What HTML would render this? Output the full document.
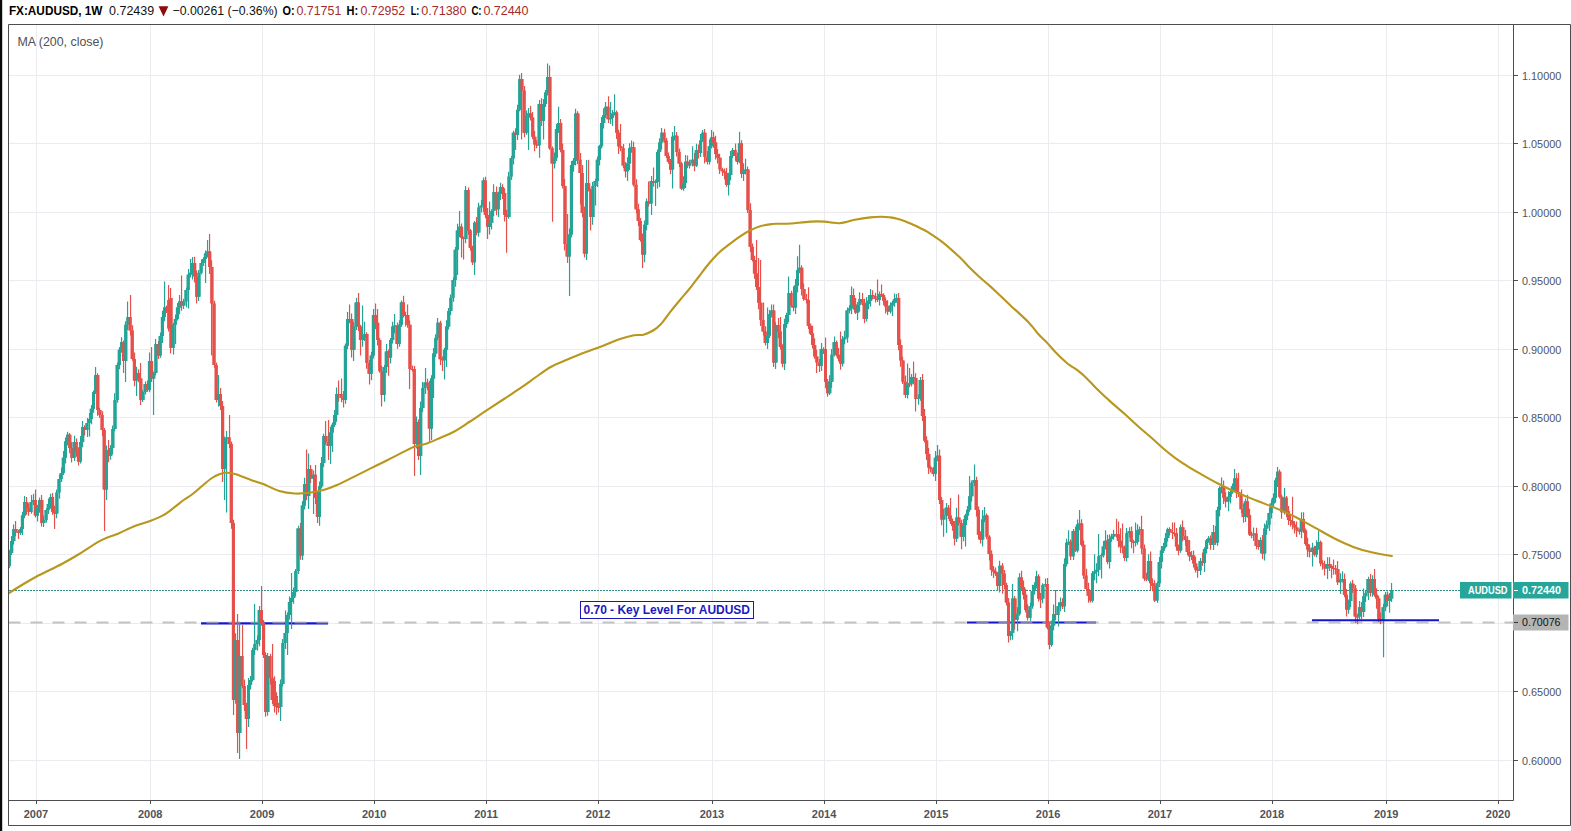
<!DOCTYPE html>
<html lang="en">
<head>
<meta charset="utf-8">
<title>FX:AUDUSD, 1W</title>
<style>
html,body{margin:0;padding:0;background:#fff;}
body{width:1571px;height:831px;overflow:hidden;}
svg{display:block;}
.g{fill:#23a497}
.r{fill:#e5504b}
</style>
</head>
<body>
<svg width="1571" height="831" viewBox="0 0 1571 831">
<defs><clipPath id="cp"><rect x="8.5" y="24.5" width="1505" height="776"/></clipPath></defs>
<rect x="0" y="0" width="1571" height="831" fill="#fff"/>
<path d="M9 75.5H1513M9 143.5H1513M9 212.5H1513M9 280.5H1513M9 349.5H1513M9 417.5H1513M9 486.5H1513M9 554.5H1513M9 623.5H1513M9 691.5H1513M9 760.5H1513M36.5 25V800M150.5 25V800M262.5 25V800M374.5 25V800M486.5 25V800M598.5 25V800M712.5 25V800M824.5 25V800M936.5 25V800M1048.5 25V800M1160.5 25V800M1272.5 25V800M1386.5 25V800M1498.5 25V800" stroke="#ececf0" stroke-width="1" fill="none"/>
<g clip-path="url(#cp)">
<path d="M201 623.4H328" stroke="#1414d2" stroke-width="2.4" fill="none"/>
<path d="M967 622.5H1096" stroke="#1414d2" stroke-width="2" fill="none"/>
<path d="M8.5 622.5H1513" stroke="#acacae" stroke-width="2" stroke-dasharray="12 10" fill="none" opacity="0.72"/>
<path d="M9 590.5H1460" stroke="#348b80" stroke-width="1" stroke-dasharray="2 1" fill="none"/>
<path class="g" d="M8.95 549.7h1.2V568.3h-1.2zM8 553h3V566h-3z"/>
<path class="g" d="M10.95 535.9h1.2V554.9h-1.2zM10.15 541h3V553h-3z"/>
<path class="g" d="M12.95 524.6h1.2V544.5h-1.2zM12.31 529h3V541h-3z"/>
<path class="r" d="M14.95 521h1.2V536.3h-1.2zM14.46 529h3V532h-3z"/>
<path class="r" d="M17.95 530.3h1.2V539h-1.2zM16.61 532h3V533h-3z"/>
<path class="g" d="M19.95 527.1h1.2V535h-1.2zM18.77 529h3V533h-3z"/>
<path class="g" d="M21.95 511.7h1.2V535h-1.2zM20.92 515.5h3V529h-3z"/>
<path class="g" d="M23.95 496h1.2V518.2h-1.2zM23.07 502h3V515.5h-3z"/>
<path class="r" d="M25.95 497h1.2V514.7h-1.2zM25.22 502h3V508h-3z"/>
<path class="r" d="M27.95 503.3h1.2V515.7h-1.2zM27.38 508h3V512h-3z"/>
<path class="g" d="M30.95 495.1h1.2V513.8h-1.2zM29.53 502h3V512h-3z"/>
<path class="g" d="M32.95 493.8h1.2V505.1h-1.2zM31.68 500h3V502h-3z"/>
<path class="r" d="M34.95 489.5h1.2V517.6h-1.2zM33.84 500h3V515.5h-3z"/>
<path class="g" d="M36.95 504.8h1.2V521.5h-1.2zM35.99 508h3V515.5h-3z"/>
<path class="g" d="M38.95 497.5h1.2V512.7h-1.2zM38.14 500h3V508h-3z"/>
<path class="r" d="M40.95 495h1.2V526.5h-1.2zM40.3 500h3V523h-3z"/>
<path class="g" d="M42.95 515.5h1.2V527h-1.2zM42.45 520h3V523h-3z"/>
<path class="g" d="M45.95 508.2h1.2V522.6h-1.2zM44.6 510h3V520h-3z"/>
<path class="g" d="M47.95 498.8h1.2V513.9h-1.2zM46.75 504h3V510h-3z"/>
<path class="g" d="M49.95 493.8h1.2V508.7h-1.2zM48.91 497h3V504h-3z"/>
<path class="r" d="M51.95 493h1.2V514.8h-1.2zM51.06 497h3V511.7h-3z"/>
<path class="r" d="M53.95 505.8h1.2V529h-1.2zM53.21 511.7h3V513.6h-3z"/>
<path class="g" d="M55.95 489.6h1.2V518.3h-1.2zM55.37 492.4h3V513.6h-3z"/>
<path class="g" d="M58.95 474.6h1.2V498.7h-1.2zM57.52 479h3V492.4h-3z"/>
<path class="g" d="M60.95 467.5h1.2V482.1h-1.2zM59.67 473h3V479h-3z"/>
<path class="g" d="M62.95 450.9h1.2V475.1h-1.2zM61.83 457.8h3V473h-3z"/>
<path class="g" d="M64.95 437.6h1.2V463.5h-1.2zM63.98 441.4h3V457.8h-3z"/>
<path class="g" d="M66.95 431.8h1.2V445.6h-1.2zM66.13 434.7h3V441.4h-3z"/>
<path class="r" d="M68.95 433h1.2V453.2h-1.2zM68.28 434.7h3V448h-3z"/>
<path class="r" d="M70.95 442.3h1.2V462.6h-1.2zM70.44 448h3V457.8h-3z"/>
<path class="g" d="M73.95 435.7h1.2V461h-1.2zM72.59 442h3V457.8h-3z"/>
<path class="r" d="M75.95 438.5h1.2V456.8h-1.2zM74.74 442h3V452h-3z"/>
<path class="r" d="M77.95 447.3h1.2V465.6h-1.2zM76.9 452h3V461.6h-3z"/>
<path class="g" d="M79.95 435.9h1.2V463.5h-1.2zM79.05 442h3V461.6h-3z"/>
<path class="g" d="M81.95 421h1.2V447.2h-1.2zM81.2 427h3V442h-3z"/>
<path class="r" d="M83.95 425.2h1.2V435.4h-1.2zM83.36 427h3V430h-3z"/>
<path class="g" d="M86.95 417.9h1.2V437h-1.2zM85.51 423h3V430h-3z"/>
<path class="g" d="M88.95 413h1.2V436.6h-1.2zM87.66 419h3V423h-3z"/>
<path class="g" d="M90.95 405.1h1.2V424.2h-1.2zM89.81 408.7h3V419h-3z"/>
<path class="g" d="M92.95 390.4h1.2V412.7h-1.2zM91.97 392h3V408.7h-3z"/>
<path class="g" d="M94.95 367h1.2V394.1h-1.2zM94.12 375h3V392h-3z"/>
<path class="r" d="M96.95 373.2h1.2V415.7h-1.2zM96.27 375h3V410h-3z"/>
<path class="r" d="M98.95 407.8h1.2V417.9h-1.2zM98.43 410h3V415h-3z"/>
<path class="r" d="M101.95 411.3h1.2V436.3h-1.2zM100.58 415h3V430h-3z"/>
<path class="r" d="M103.95 428.1h1.2V531h-1.2zM102.73 430h3V489.5h-3z"/>
<path class="g" d="M105.95 445.5h1.2V500h-1.2zM104.89 450h3V489.5h-3z"/>
<path class="r" d="M107.95 440h1.2V462.3h-1.2zM107.04 450h3V456h-3z"/>
<path class="g" d="M109.95 445h1.2V459.8h-1.2zM109.19 448h3V456h-3z"/>
<path class="g" d="M111.95 425.5h1.2V454.4h-1.2zM111.34 429h3V448h-3z"/>
<path class="g" d="M113.95 393.2h1.2V431.3h-1.2zM113.5 400h3V429h-3z"/>
<path class="g" d="M116.95 362.5h1.2V402.8h-1.2zM115.65 365h3V400h-3z"/>
<path class="g" d="M118.95 347h1.2V369.2h-1.2zM117.8 349.8h3V365h-3z"/>
<path class="g" d="M120.95 337.3h1.2V352.7h-1.2zM119.96 342h3V349.8h-3z"/>
<path class="r" d="M122.95 340.5h1.2V373h-1.2zM122.11 342h3V361h-3z"/>
<path class="g" d="M124.95 321.2h1.2V382h-1.2zM124.26 324.7h3V361h-3z"/>
<path class="g" d="M126.95 301.6h1.2V330h-1.2zM126.42 317h3V324.7h-3z"/>
<path class="r" d="M129.95 295h1.2V335.4h-1.2zM128.57 317h3V330.5h-3z"/>
<path class="r" d="M131.95 325.3h1.2V360.8h-1.2zM130.72 330.5h3V359h-3z"/>
<path class="r" d="M133.95 352.6h1.2V386.3h-1.2zM132.87 359h3V380.5h-3z"/>
<path class="g" d="M135.95 366.7h1.2V396h-1.2zM135.03 373h3V380.5h-3z"/>
<path class="r" d="M137.95 369.3h1.2V382.3h-1.2zM137.18 373h3V378.6h-3z"/>
<path class="r" d="M139.95 363h1.2V405h-1.2zM139.33 378.6h3V400h-3z"/>
<path class="g" d="M141.95 390.2h1.2V401.9h-1.2zM141.49 392h3V400h-3z"/>
<path class="g" d="M144.95 381.4h1.2V394.4h-1.2zM143.64 384h3V392h-3z"/>
<path class="r" d="M146.95 380.6h1.2V391.8h-1.2zM145.79 384h3V390h-3z"/>
<path class="g" d="M148.95 352.6h1.2V392.3h-1.2zM147.94 361h3V390h-3z"/>
<path class="r" d="M150.95 347h1.2V382.1h-1.2zM150.1 361h3V378.6h-3z"/>
<path class="g" d="M152.95 371.4h1.2V415h-1.2zM152.25 373h3V378.6h-3z"/>
<path class="g" d="M154.95 339.1h1.2V375.3h-1.2zM154.4 344h3V373h-3z"/>
<path class="r" d="M157.95 341.1h1.2V358.9h-1.2zM156.56 344h3V355.5h-3z"/>
<path class="g" d="M159.95 332.5h1.2V357.7h-1.2zM158.71 336h3V355.5h-3z"/>
<path class="g" d="M161.95 310.8h1.2V343h-1.2zM160.86 317h3V336h-3z"/>
<path class="g" d="M163.95 281.4h1.2V321.2h-1.2zM163.02 307.4h3V317h-3z"/>
<path class="r" d="M165.95 305.4h1.2V313.1h-1.2zM165.17 307.4h3V311h-3z"/>
<path class="r" d="M167.95 285h1.2V331.6h-1.2zM167.32 300h3V328.6h-3z"/>
<path class="r" d="M169.95 288h1.2V353.6h-1.2zM169.47 298h3V347.8h-3z"/>
<path class="g" d="M172.95 323.1h1.2V354.5h-1.2zM171.63 324.7h3V347.8h-3z"/>
<path class="g" d="M174.95 314.6h1.2V344h-1.2zM173.78 319h3V324.7h-3z"/>
<path class="g" d="M176.95 302.9h1.2V320.6h-1.2zM175.93 307.4h3V319h-3z"/>
<path class="g" d="M178.95 295h1.2V314.3h-1.2zM178.09 301.6h3V307.4h-3z"/>
<path class="r" d="M180.95 275.6h1.2V310.8h-1.2zM180.24 301.6h3V305.5h-3z"/>
<path class="g" d="M182.95 298.7h1.2V309h-1.2zM182.39 301.6h3V305.5h-3z"/>
<path class="g" d="M185.95 287.6h1.2V307.3h-1.2zM184.55 290h3V301.6h-3z"/>
<path class="g" d="M187.95 269h1.2V308.4h-1.2zM186.7 274.7h3V290h-3z"/>
<path class="g" d="M189.95 259h1.2V277.4h-1.2zM188.85 272.7h3V274.7h-3z"/>
<path class="g" d="M191.95 257h1.2V279.6h-1.2zM191 263h3V272.7h-3z"/>
<path class="r" d="M193.95 256.8h1.2V282.5h-1.2zM193.16 263h3V276.6h-3z"/>
<path class="r" d="M195.95 270.6h1.2V303.5h-1.2zM195.31 276.6h3V296.8h-3z"/>
<path class="g" d="M197.95 270h1.2V301.1h-1.2zM197.46 272.7h3V296.8h-3z"/>
<path class="g" d="M200.95 259.5h1.2V274.4h-1.2zM199.62 263h3V272.7h-3z"/>
<path class="g" d="M202.95 257.3h1.2V266h-1.2zM201.77 259h3V263h-3z"/>
<path class="g" d="M204.95 250.6h1.2V283h-1.2zM203.92 253.5h3V259h-3z"/>
<path class="g" d="M206.95 240h1.2V257.5h-1.2zM206.08 251.5h3V253.5h-3z"/>
<path class="r" d="M208.95 234h1.2V273.9h-1.2zM208.23 251.5h3V267h-3z"/>
<path class="r" d="M210.95 260.2h1.2V355.5h-1.2zM210.38 267h3V303.5h-3z"/>
<path class="r" d="M213.95 300.8h1.2V367.7h-1.2zM212.53 303.5h3V365h-3z"/>
<path class="r" d="M215.95 362.4h1.2V402.6h-1.2zM214.69 365h3V400h-3z"/>
<path class="g" d="M217.95 375h1.2V406.5h-1.2zM216.84 394h3V400h-3z"/>
<path class="r" d="M219.95 387.9h1.2V410.1h-1.2zM218.99 394h3V406h-3z"/>
<path class="r" d="M221.95 400.9h1.2V482h-1.2zM221.15 406h3V469h-3z"/>
<path class="g" d="M223.95 436.5h1.2V500h-1.2zM223.3 438.5h3V469h-3z"/>
<path class="g" d="M225.95 431h1.2V512.6h-1.2zM225.45 437.5h3V438.5h-3z"/>
<path class="r" d="M228.95 415h1.2V448.1h-1.2zM227.61 437.5h3V444h-3z"/>
<path class="r" d="M230.95 441.5h1.2V528.8h-1.2zM229.76 444h3V523h-3z"/>
<path class="r" d="M232.95 519.7h1.2V715h-1.2zM231.91 523h3V700h-3z"/>
<path class="g" d="M234.95 633.2h1.2V703.7h-1.2zM234.06 640h3V700h-3z"/>
<path class="r" d="M236.95 614h1.2V753h-1.2zM236.22 640h3V733h-3z"/>
<path class="g" d="M238.95 622h1.2V759h-1.2zM238.37 656h3V733h-3z"/>
<path class="r" d="M241.95 625h1.2V688.3h-1.2zM240.52 656h3V686h-3z"/>
<path class="r" d="M243.95 679.5h1.2V710.9h-1.2zM242.68 686h3V705h-3z"/>
<path class="r" d="M245.95 702.7h1.2V749h-1.2zM244.83 705h3V719h-3z"/>
<path class="g" d="M247.95 678.1h1.2V727h-1.2zM246.98 685h3V719h-3z"/>
<path class="g" d="M249.95 676h1.2V689.5h-1.2zM249.14 680h3V685h-3z"/>
<path class="g" d="M251.95 647.8h1.2V681.6h-1.2zM251.29 650h3V680h-3z"/>
<path class="g" d="M253.95 604h1.2V655.1h-1.2zM253.44 644h3V650h-3z"/>
<path class="g" d="M256.95 635.6h1.2V650.6h-1.2zM255.6 640h3V644h-3z"/>
<path class="g" d="M258.95 606.1h1.2V646.3h-1.2zM257.75 610h3V640h-3z"/>
<path class="r" d="M260.95 586h1.2V625.7h-1.2zM259.9 610h3V623h-3z"/>
<path class="r" d="M262.95 620.1h1.2V658.1h-1.2zM262.05 623h3V655h-3z"/>
<path class="r" d="M264.95 652.2h1.2V716.7h-1.2zM264.21 655h3V712h-3z"/>
<path class="g" d="M266.95 653.1h1.2V715.8h-1.2zM266.36 656h3V712h-3z"/>
<path class="r" d="M269.95 653.8h1.2V684.5h-1.2zM268.51 656h3V678h-3z"/>
<path class="r" d="M271.95 644h1.2V704h-1.2zM270.67 678h3V700h-3z"/>
<path class="r" d="M273.95 676.3h1.2V712.5h-1.2zM272.82 681h3V706h-3z"/>
<path class="r" d="M275.95 692.2h1.2V714.7h-1.2zM274.97 696h3V707h-3z"/>
<path class="r" d="M277.95 702.7h1.2V712.4h-1.2zM277.12 707h3V708h-3z"/>
<path class="g" d="M279.95 679.6h1.2V721h-1.2zM279.28 684h3V707h-3z"/>
<path class="g" d="M281.95 639.1h1.2V686.5h-1.2zM281.43 643h3V684h-3z"/>
<path class="g" d="M284.95 610.4h1.2V648.9h-1.2zM283.58 633h3V643h-3z"/>
<path class="g" d="M286.95 612.6h1.2V655h-1.2zM285.74 615h3V633h-3z"/>
<path class="g" d="M288.95 596.5h1.2V619.6h-1.2zM287.89 602h3V615h-3z"/>
<path class="g" d="M290.95 573h1.2V629h-1.2zM290.04 598h3V602h-3z"/>
<path class="g" d="M292.95 587.4h1.2V603.8h-1.2zM292.2 592h3V598h-3z"/>
<path class="g" d="M294.95 568.9h1.2V596.6h-1.2zM294.35 571h3V592h-3z"/>
<path class="g" d="M297.95 525.7h1.2V574h-1.2zM296.5 528.6h3V571h-3z"/>
<path class="r" d="M299.95 522.9h1.2V559.8h-1.2zM298.66 528.6h3V555.5h-3z"/>
<path class="g" d="M301.95 500.9h1.2V560h-1.2zM300.81 505.5h3V555.5h-3z"/>
<path class="g" d="M303.95 477.8h1.2V509.4h-1.2zM302.96 484.3h3V505.5h-3z"/>
<path class="r" d="M305.95 449.6h1.2V500.3h-1.2zM305.11 484.3h3V496h-3z"/>
<path class="g" d="M307.95 453.5h1.2V509h-1.2zM307.27 469h3V496h-3z"/>
<path class="r" d="M309.95 465h1.2V482.9h-1.2zM309.42 469h3V478.5h-3z"/>
<path class="g" d="M312.95 470.6h1.2V514h-1.2zM311.57 474.7h3V478.5h-3z"/>
<path class="r" d="M314.95 465h1.2V504.1h-1.2zM313.73 474.7h3V497.8h-3z"/>
<path class="r" d="M316.95 491.1h1.2V523h-1.2zM315.88 497.8h3V517h-3z"/>
<path class="g" d="M318.95 481.6h1.2V525.7h-1.2zM318.03 486.2h3V517h-3z"/>
<path class="g" d="M320.95 456.9h1.2V488.5h-1.2zM320.19 463h3V486.2h-3z"/>
<path class="g" d="M322.95 433.8h1.2V466.9h-1.2zM322.34 436h3V463h-3z"/>
<path class="r" d="M324.95 421h1.2V444.8h-1.2zM324.49 436h3V442h-3z"/>
<path class="r" d="M327.95 420h1.2V460h-1.2zM326.64 442h3V446h-3z"/>
<path class="g" d="M329.95 426.7h1.2V464h-1.2zM328.8 432.5h3V446h-3z"/>
<path class="g" d="M331.95 422.5h1.2V452h-1.2zM330.95 424.8h3V432.5h-3z"/>
<path class="g" d="M333.95 409.9h1.2V427.1h-1.2zM333.1 415h3V424.8h-3z"/>
<path class="g" d="M335.95 387.6h1.2V421.8h-1.2zM335.26 394h3V415h-3z"/>
<path class="r" d="M337.95 380.5h1.2V401.7h-1.2zM337.41 394h3V395h-3z"/>
<path class="r" d="M340.95 378.6h1.2V402.2h-1.2zM339.56 394h3V398h-3z"/>
<path class="r" d="M342.95 391.1h1.2V407.5h-1.2zM341.72 398h3V399.8h-3z"/>
<path class="g" d="M344.95 343.4h1.2V403.7h-1.2zM343.87 345.8h3V399.8h-3z"/>
<path class="g" d="M346.95 312h1.2V349.2h-1.2zM346.02 319h3V345.8h-3z"/>
<path class="r" d="M348.95 304.4h1.2V323.3h-1.2zM348.17 319h3V320h-3z"/>
<path class="r" d="M350.95 313.5h1.2V357.4h-1.2zM350.33 319h3V349.7h-3z"/>
<path class="g" d="M352.95 322.1h1.2V361h-1.2zM352.48 326.6h3V349.7h-3z"/>
<path class="g" d="M355.95 297.7h1.2V329.9h-1.2zM354.63 302.5h3V326.6h-3z"/>
<path class="r" d="M357.95 293h1.2V330.9h-1.2zM356.79 302.5h3V326.6h-3z"/>
<path class="r" d="M359.95 324.7h1.2V355.5h-1.2zM358.94 326.6h3V340h-3z"/>
<path class="g" d="M361.95 305.4h1.2V346.8h-1.2zM361.09 338h3V340h-3z"/>
<path class="g" d="M363.95 321.8h1.2V341h-1.2zM363.25 334h3V338h-3z"/>
<path class="r" d="M365.95 332.3h1.2V368.8h-1.2zM365.4 334h3V363h-3z"/>
<path class="r" d="M368.95 360h1.2V384.4h-1.2zM367.55 363h3V373.8h-3z"/>
<path class="g" d="M370.95 351.7h1.2V380.3h-1.2zM369.7 355.5h3V373.8h-3z"/>
<path class="g" d="M372.95 309h1.2V358.4h-1.2zM371.86 315h3V355.5h-3z"/>
<path class="r" d="M374.95 303.5h1.2V329.3h-1.2zM374.01 315h3V322.7h-3z"/>
<path class="r" d="M376.95 309h1.2V345.4h-1.2zM376.16 322.7h3V340h-3z"/>
<path class="r" d="M378.95 338h1.2V372.8h-1.2zM378.32 340h3V371h-3z"/>
<path class="r" d="M380.95 365.7h1.2V406.5h-1.2zM380.47 371h3V395h-3z"/>
<path class="g" d="M383.95 365.1h1.2V401.7h-1.2zM382.62 367h3V395h-3z"/>
<path class="g" d="M385.95 344h1.2V372.9h-1.2zM384.77 351.6h3V367h-3z"/>
<path class="r" d="M387.95 349.6h1.2V375.7h-1.2zM386.93 351.6h3V357.4h-3z"/>
<path class="g" d="M389.95 338.1h1.2V363.6h-1.2zM389.08 340h3V357.4h-3z"/>
<path class="g" d="M391.95 321.8h1.2V343.4h-1.2zM391.23 326.6h3V340h-3z"/>
<path class="g" d="M393.95 314h1.2V333.2h-1.2zM393.39 325.6h3V326.6h-3z"/>
<path class="r" d="M396.95 322.6h1.2V348.7h-1.2zM395.54 325.6h3V344h-3z"/>
<path class="g" d="M398.95 320.3h1.2V346.8h-1.2zM397.69 324.7h3V344h-3z"/>
<path class="g" d="M400.95 300.4h1.2V327.1h-1.2zM399.85 302.5h3V324.7h-3z"/>
<path class="r" d="M402.95 295.8h1.2V317.6h-1.2zM402 302.5h3V315h-3z"/>
<path class="r" d="M404.95 311.8h1.2V326.6h-1.2zM404.15 315h3V316h-3z"/>
<path class="r" d="M406.95 304.4h1.2V327.8h-1.2zM406.31 315h3V324.7h-3z"/>
<path class="r" d="M408.95 320.4h1.2V389h-1.2zM408.46 324.7h3V369h-3z"/>
<path class="r" d="M411.95 365.6h1.2V371.6h-1.2zM410.61 369h3V370h-3z"/>
<path class="r" d="M413.95 366.1h1.2V476h-1.2zM412.76 369h3V444h-3z"/>
<path class="g" d="M415.95 416.5h1.2V448.5h-1.2zM414.92 422h3V444h-3z"/>
<path class="r" d="M417.95 419.5h1.2V460.1h-1.2zM417.07 422h3V456h-3z"/>
<path class="g" d="M419.95 401.4h1.2V475h-1.2zM419.22 408h3V456h-3z"/>
<path class="g" d="M421.95 382h1.2V411.9h-1.2zM421.38 388h3V408h-3z"/>
<path class="g" d="M424.95 368h1.2V394.1h-1.2zM423.53 382.4h3V388h-3z"/>
<path class="r" d="M426.95 378.7h1.2V390.3h-1.2zM425.68 382.4h3V386h-3z"/>
<path class="r" d="M428.95 380.7h1.2V442h-1.2zM427.83 386h3V428.6h-3z"/>
<path class="g" d="M430.95 375.2h1.2V440h-1.2zM429.99 378.6h3V428.6h-3z"/>
<path class="g" d="M432.95 348.1h1.2V398h-1.2zM432.14 353.5h3V378.6h-3z"/>
<path class="g" d="M434.95 334.3h1.2V356.9h-1.2zM434.29 338h3V353.5h-3z"/>
<path class="g" d="M436.95 318h1.2V340.2h-1.2zM436.45 322.7h3V338h-3z"/>
<path class="r" d="M439.95 320.8h1.2V364.9h-1.2zM438.6 322.7h3V359.3h-3z"/>
<path class="r" d="M441.95 356.4h1.2V371h-1.2zM440.75 359.3h3V360.3h-3z"/>
<path class="g" d="M443.95 347.7h1.2V379.5h-1.2zM442.91 349.7h3V360.3h-3z"/>
<path class="g" d="M445.95 320.3h1.2V367h-1.2zM445.06 326.6h3V349.7h-3z"/>
<path class="g" d="M447.95 307.9h1.2V329.4h-1.2zM447.21 311h3V326.6h-3z"/>
<path class="g" d="M449.95 294.6h1.2V315h-1.2zM449.37 297.7h3V311h-3z"/>
<path class="g" d="M452.95 277.6h1.2V301.7h-1.2zM451.52 280h3V297.7h-3z"/>
<path class="g" d="M454.95 246.9h1.2V286.8h-1.2zM453.67 249.8h3V280h-3z"/>
<path class="g" d="M456.95 223.7h1.2V275h-1.2zM455.82 230.5h3V249.8h-3z"/>
<path class="g" d="M458.95 211h1.2V237.3h-1.2zM457.98 226.7h3V230.5h-3z"/>
<path class="r" d="M460.95 223.5h1.2V257.5h-1.2zM460.13 226.7h3V238h-3z"/>
<path class="r" d="M462.95 236.5h1.2V259.4h-1.2zM462.28 238h3V239h-3z"/>
<path class="g" d="M464.95 186h1.2V243.3h-1.2zM464.44 190h3V239h-3z"/>
<path class="r" d="M467.95 187.4h1.2V234.8h-1.2zM466.59 190h3V230.5h-3z"/>
<path class="r" d="M469.95 229h1.2V250.8h-1.2zM468.74 230.5h3V247.8h-3z"/>
<path class="r" d="M471.95 245.8h1.2V265h-1.2zM470.89 247.8h3V262.3h-3z"/>
<path class="g" d="M473.95 221.1h1.2V275h-1.2zM473.05 222.8h3V262.3h-3z"/>
<path class="r" d="M475.95 217h1.2V235.2h-1.2zM475.2 222.8h3V232.4h-3z"/>
<path class="g" d="M477.95 202.7h1.2V236.8h-1.2zM477.35 207.4h3V232.4h-3z"/>
<path class="g" d="M480.95 199.9h1.2V212.5h-1.2zM479.51 205.5h3V207.4h-3z"/>
<path class="g" d="M482.95 177.5h1.2V211.8h-1.2zM481.66 180.4h3V205.5h-3z"/>
<path class="r" d="M484.95 176.8h1.2V218.3h-1.2zM483.81 180.4h3V215h-3z"/>
<path class="r" d="M486.95 208.1h1.2V239h-1.2zM485.97 215h3V226.7h-3z"/>
<path class="g" d="M488.95 201.6h1.2V234.4h-1.2zM488.12 222.8h3V226.7h-3z"/>
<path class="g" d="M490.95 209.3h1.2V229.5h-1.2zM490.27 211h3V222.8h-3z"/>
<path class="g" d="M492.95 184.3h1.2V216h-1.2zM492.43 192h3V211h-3z"/>
<path class="r" d="M495.95 186.5h1.2V215.3h-1.2zM494.58 192h3V209.3h-3z"/>
<path class="g" d="M497.95 191.7h1.2V217h-1.2zM496.73 194h3V209.3h-3z"/>
<path class="g" d="M499.95 182.7h1.2V200.1h-1.2zM498.88 187h3V194h-3z"/>
<path class="r" d="M501.95 184.3h1.2V199h-1.2zM501.04 187h3V193h-3z"/>
<path class="r" d="M503.95 188.3h1.2V221.4h-1.2zM503.19 193h3V215h-3z"/>
<path class="r" d="M505.95 209.7h1.2V252.7h-1.2zM505.34 215h3V217h-3z"/>
<path class="g" d="M507.95 171.8h1.2V218.7h-1.2zM507.5 176.6h3V217h-3z"/>
<path class="g" d="M510.95 156.1h1.2V180.1h-1.2zM509.65 158.3h3V176.6h-3z"/>
<path class="g" d="M512.95 130.7h1.2V164.4h-1.2zM511.8 132.8h3V158.3h-3z"/>
<path class="r" d="M514.95 128.2h1.2V150h-1.2zM513.95 132.8h3V134.7h-3z"/>
<path class="g" d="M516.95 104.8h1.2V139.9h-1.2zM516.11 109.7h3V134.7h-3z"/>
<path class="g" d="M518.95 74.7h1.2V111.2h-1.2zM518.26 78.9h3V109.7h-3z"/>
<path class="r" d="M520.95 73h1.2V139.5h-1.2zM520.41 78.9h3V90.4h-3z"/>
<path class="r" d="M523.95 86.1h1.2V137.2h-1.2zM522.57 90.4h3V132.8h-3z"/>
<path class="g" d="M525.95 110.4h1.2V134.7h-1.2zM524.72 115.5h3V132.8h-3z"/>
<path class="g" d="M527.95 107.9h1.2V150h-1.2zM526.87 113.5h3V115.5h-3z"/>
<path class="r" d="M529.95 105.8h1.2V120.4h-1.2zM529.03 113.5h3V117.4h-3z"/>
<path class="r" d="M531.95 111.9h1.2V139.3h-1.2zM531.18 117.4h3V136.7h-3z"/>
<path class="r" d="M533.95 131.1h1.2V151.3h-1.2zM533.33 136.7h3V144.4h-3z"/>
<path class="r" d="M535.95 140.2h1.2V148.2h-1.2zM535.49 144.4h3V145.4h-3z"/>
<path class="g" d="M538.95 99.9h1.2V157.8h-1.2zM537.64 104h3V145.3h-3z"/>
<path class="r" d="M540.95 98.3h1.2V125.9h-1.2zM539.79 104h3V121h-3z"/>
<path class="g" d="M542.95 99h1.2V139.5h-1.2zM541.94 104h3V121h-3z"/>
<path class="g" d="M544.95 90.1h1.2V106.9h-1.2zM544.1 92.4h3V104h-3z"/>
<path class="g" d="M546.95 63.5h1.2V95.6h-1.2zM546.25 77h3V92.4h-3z"/>
<path class="r" d="M548.95 65.4h1.2V149.8h-1.2zM548.4 77h3V148.2h-3z"/>
<path class="r" d="M551.95 146.4h1.2V221.8h-1.2zM550.56 148.2h3V163.6h-3z"/>
<path class="g" d="M553.95 152.6h1.2V168.4h-1.2zM552.71 157.8h3V163.6h-3z"/>
<path class="g" d="M555.95 123.8h1.2V160.9h-1.2zM554.86 129h3V157.8h-3z"/>
<path class="g" d="M557.95 106.8h1.2V133.1h-1.2zM557.01 123h3V129h-3z"/>
<path class="r" d="M559.95 118.9h1.2V152.2h-1.2zM559.17 123h3V150h-3z"/>
<path class="r" d="M561.95 143.6h1.2V188.6h-1.2zM561.32 150h3V186h-3z"/>
<path class="r" d="M563.95 179.1h1.2V250.6h-1.2zM563.47 186h3V244h-3z"/>
<path class="r" d="M566.95 214h1.2V263h-1.2zM565.63 244h3V256.5h-3z"/>
<path class="g" d="M568.95 228.4h1.2V296h-1.2zM567.78 234.4h3V256.5h-3z"/>
<path class="g" d="M570.95 161h1.2V237.4h-1.2zM569.93 165h3V234.4h-3z"/>
<path class="g" d="M572.95 158h1.2V171.7h-1.2zM572.09 160.7h3V165h-3z"/>
<path class="g" d="M574.95 108.7h1.2V165.4h-1.2zM574.24 113.5h3V160.7h-3z"/>
<path class="r" d="M576.95 111.2h1.2V164.2h-1.2zM576.39 113.5h3V159.8h-3z"/>
<path class="r" d="M579.95 153.1h1.2V204.5h-1.2zM578.54 159.8h3V173h-3z"/>
<path class="r" d="M581.95 165h1.2V217.3h-1.2zM580.7 173h3V213h-3z"/>
<path class="r" d="M583.95 206.6h1.2V257.5h-1.2zM582.85 213h3V253.6h-3z"/>
<path class="g" d="M585.95 160h1.2V260h-1.2zM585 183.3h3V253.6h-3z"/>
<path class="r" d="M587.95 159.8h1.2V191.6h-1.2zM587.16 183.3h3V190h-3z"/>
<path class="r" d="M589.95 188.5h1.2V230.5h-1.2zM589.31 190h3V217h-3z"/>
<path class="g" d="M591.95 182h1.2V224.7h-1.2zM591.46 186h3V217h-3z"/>
<path class="g" d="M594.95 178.7h1.2V205.5h-1.2zM593.62 181h3V186h-3z"/>
<path class="g" d="M596.95 156.6h1.2V187.1h-1.2zM595.77 159.8h3V181h-3z"/>
<path class="g" d="M598.95 144.8h1.2V165.4h-1.2zM597.92 146.3h3V159.8h-3z"/>
<path class="g" d="M600.95 116.9h1.2V148.5h-1.2zM600.08 123h3V146.3h-3z"/>
<path class="g" d="M602.95 108.3h1.2V128.4h-1.2zM602.23 114.9h3V123h-3z"/>
<path class="g" d="M604.95 102h1.2V118h-1.2zM604.38 106.8h3V114.9h-3z"/>
<path class="r" d="M607.95 96.2h1.2V123h-1.2zM606.53 106.8h3V119.3h-3z"/>
<path class="g" d="M609.95 102h1.2V124h-1.2zM608.69 118h3V119.3h-3z"/>
<path class="g" d="M611.95 110h1.2V126h-1.2zM610.84 113.5h3V118h-3z"/>
<path class="g" d="M613.95 94.3h1.2V115.4h-1.2zM612.99 112.6h3V113.6h-3z"/>
<path class="r" d="M615.95 110.5h1.2V138.9h-1.2zM615.15 112.6h3V132.8h-3z"/>
<path class="r" d="M617.95 129.7h1.2V154h-1.2zM617.3 132.8h3V146.3h-3z"/>
<path class="r" d="M619.95 124h1.2V151.2h-1.2zM619.45 146.3h3V148.2h-3z"/>
<path class="r" d="M622.95 143.9h1.2V168h-1.2zM621.61 148.2h3V165.5h-3z"/>
<path class="r" d="M624.95 161.9h1.2V177.5h-1.2zM623.76 165.5h3V171.3h-3z"/>
<path class="g" d="M626.95 157.2h1.2V181h-1.2zM625.91 163.6h3V171.3h-3z"/>
<path class="g" d="M628.95 143.2h1.2V170.1h-1.2zM628.06 148.2h3V163.6h-3z"/>
<path class="g" d="M630.95 140.5h1.2V152.7h-1.2zM630.22 147.2h3V148.2h-3z"/>
<path class="r" d="M632.95 141.7h1.2V186.6h-1.2zM632.37 147.2h3V184.8h-3z"/>
<path class="r" d="M635.95 179.3h1.2V213.3h-1.2zM634.52 184.8h3V209.3h-3z"/>
<path class="r" d="M637.95 203.7h1.2V226h-1.2zM636.68 209.3h3V221h-3z"/>
<path class="r" d="M639.95 217.9h1.2V241.8h-1.2zM638.83 221h3V240h-3z"/>
<path class="r" d="M641.95 233.4h1.2V268h-1.2zM640.98 240h3V254.6h-3z"/>
<path class="g" d="M643.95 220.6h1.2V262.3h-1.2zM643.13 224.7h3V254.6h-3z"/>
<path class="g" d="M645.95 198.5h1.2V230.3h-1.2zM645.29 201.6h3V224.7h-3z"/>
<path class="r" d="M647.95 181.4h1.2V206.4h-1.2zM647.44 201.6h3V203.5h-3z"/>
<path class="g" d="M650.95 175.9h1.2V215h-1.2zM649.59 181h3V203.5h-3z"/>
<path class="r" d="M652.95 167.5h1.2V186.7h-1.2zM651.75 181h3V183h-3z"/>
<path class="g" d="M654.95 179.6h1.2V206h-1.2zM653.9 182h3V183h-3z"/>
<path class="g" d="M656.95 149.4h1.2V188.5h-1.2zM656.05 152h3V182h-3z"/>
<path class="g" d="M658.95 138.2h1.2V187h-1.2zM658.21 142.4h3V152h-3z"/>
<path class="g" d="M660.95 128h1.2V149.4h-1.2zM660.36 132.8h3V142.4h-3z"/>
<path class="r" d="M663.95 128.8h1.2V142.8h-1.2zM662.51 132.8h3V140.5h-3z"/>
<path class="r" d="M665.95 137.9h1.2V158h-1.2zM664.66 140.5h3V156h-3z"/>
<path class="r" d="M667.95 152.6h1.2V163.7h-1.2zM666.82 156h3V161.7h-3z"/>
<path class="r" d="M669.95 158.9h1.2V174.2h-1.2zM668.97 161.7h3V169.4h-3z"/>
<path class="g" d="M671.95 132.1h1.2V188.6h-1.2zM671.12 136.7h3V169.4h-3z"/>
<path class="g" d="M673.95 126h1.2V140.5h-1.2zM673.28 135.7h3V136.7h-3z"/>
<path class="r" d="M675.95 131.9h1.2V156.4h-1.2zM675.43 135.7h3V152h-3z"/>
<path class="r" d="M678.95 148.4h1.2V167h-1.2zM677.58 152h3V163.6h-3z"/>
<path class="r" d="M680.95 161.8h1.2V190h-1.2zM679.74 163.6h3V188.6h-3z"/>
<path class="g" d="M682.95 176.2h1.2V190.8h-1.2zM681.89 183h3V188.6h-3z"/>
<path class="g" d="M684.95 155h1.2V188h-1.2zM684.04 161.7h3V183h-3z"/>
<path class="r" d="M686.95 155.5h1.2V168.2h-1.2zM686.2 161.7h3V165.5h-3z"/>
<path class="g" d="M688.95 159.7h1.2V168.4h-1.2zM688.35 162.7h3V165.5h-3z"/>
<path class="g" d="M691.95 146.3h1.2V166.6h-1.2zM690.5 159.8h3V162.7h-3z"/>
<path class="r" d="M693.95 153.1h1.2V171.3h-1.2zM692.65 159.8h3V165.5h-3z"/>
<path class="g" d="M695.95 143.7h1.2V167.1h-1.2zM694.81 150h3V165.5h-3z"/>
<path class="r" d="M697.95 144.4h1.2V158.4h-1.2zM696.96 150h3V153h-3z"/>
<path class="g" d="M699.95 134.1h1.2V157.1h-1.2zM699.11 140.5h3V153h-3z"/>
<path class="g" d="M701.95 130h1.2V142h-1.2zM701.27 132.8h3V140.5h-3z"/>
<path class="r" d="M703.95 129.1h1.2V163.5h-1.2zM703.42 132.8h3V156.9h-3z"/>
<path class="r" d="M706.95 150.9h1.2V164.6h-1.2zM705.57 156.9h3V161.7h-3z"/>
<path class="g" d="M708.95 139.5h1.2V164.6h-1.2zM707.73 146.3h3V161.7h-3z"/>
<path class="g" d="M710.95 130h1.2V148.6h-1.2zM709.88 137.6h3V146.3h-3z"/>
<path class="r" d="M712.95 131.8h1.2V147.7h-1.2zM712.03 137.6h3V142.4h-3z"/>
<path class="r" d="M714.95 135.7h1.2V159.5h-1.2zM714.18 142.4h3V154h-3z"/>
<path class="r" d="M716.95 148.9h1.2V163.5h-1.2zM716.34 154h3V157.8h-3z"/>
<path class="r" d="M718.95 153.8h1.2V173.9h-1.2zM718.49 157.8h3V169.4h-3z"/>
<path class="r" d="M721.95 167.7h1.2V176h-1.2zM720.64 169.4h3V171.3h-3z"/>
<path class="r" d="M723.95 168.5h1.2V179.6h-1.2zM722.8 171.3h3V173h-3z"/>
<path class="r" d="M725.95 167.9h1.2V186.7h-1.2zM724.95 173h3V184.8h-3z"/>
<path class="g" d="M727.95 172.8h1.2V195.4h-1.2zM727.1 175h3V184.8h-3z"/>
<path class="g" d="M729.95 151h1.2V180.3h-1.2zM729.25 156h3V175h-3z"/>
<path class="g" d="M731.95 147.9h1.2V157.9h-1.2zM731.41 150h3V156h-3z"/>
<path class="r" d="M734.95 143.4h1.2V160.7h-1.2zM733.56 150h3V156h-3z"/>
<path class="r" d="M736.95 152.4h1.2V164.4h-1.2zM735.71 156h3V161.7h-3z"/>
<path class="g" d="M738.95 131.8h1.2V163.3h-1.2zM737.87 143.4h3V161.7h-3z"/>
<path class="r" d="M740.95 140.2h1.2V178h-1.2zM740.02 143.4h3V174h-3z"/>
<path class="g" d="M742.95 163.2h1.2V181h-1.2zM742.17 170h3V174h-3z"/>
<path class="g" d="M744.95 158.8h1.2V174.5h-1.2zM744.33 169.4h3V170.4h-3z"/>
<path class="r" d="M746.95 166.6h1.2V212.9h-1.2zM746.48 169.4h3V210h-3z"/>
<path class="r" d="M749.95 203.2h1.2V252.1h-1.2zM748.63 210h3V246.7h-3z"/>
<path class="r" d="M751.95 243.5h1.2V261.6h-1.2zM750.78 246.7h3V260h-3z"/>
<path class="r" d="M753.95 255.8h1.2V278.8h-1.2zM752.94 260h3V273.6h-3z"/>
<path class="r" d="M755.95 240h1.2V289.9h-1.2zM755.09 273.6h3V287h-3z"/>
<path class="r" d="M757.95 258h1.2V309.3h-1.2zM757.24 287h3V302.7h-3z"/>
<path class="r" d="M759.95 260h1.2V326h-1.2zM759.4 302.7h3V320h-3z"/>
<path class="r" d="M762.95 302.5h1.2V335.4h-1.2zM761.55 320h3V331.6h-3z"/>
<path class="r" d="M764.95 326.3h1.2V345.6h-1.2zM763.7 331.6h3V343h-3z"/>
<path class="g" d="M766.95 307.5h1.2V349h-1.2zM765.86 335.5h3V343h-3z"/>
<path class="g" d="M768.95 310h1.2V338.1h-1.2zM768.01 314.3h3V335.5h-3z"/>
<path class="g" d="M770.95 304.6h1.2V317.5h-1.2zM770.16 310.4h3V314.3h-3z"/>
<path class="r" d="M772.95 304.4h1.2V367h-1.2zM772.32 310.4h3V362.4h-3z"/>
<path class="g" d="M774.95 322.3h1.2V369h-1.2zM774.47 325h3V362.4h-3z"/>
<path class="r" d="M777.95 318h1.2V338.3h-1.2zM776.62 325h3V331.6h-3z"/>
<path class="r" d="M779.95 317h1.2V349.5h-1.2zM778.77 331.6h3V347h-3z"/>
<path class="r" d="M781.95 344.3h1.2V367.2h-1.2zM780.93 347h3V363.4h-3z"/>
<path class="g" d="M783.95 318.8h1.2V370.1h-1.2zM783.08 324h3V363.4h-3z"/>
<path class="g" d="M785.95 312.7h1.2V327.7h-1.2zM785.23 315h3V324h-3z"/>
<path class="g" d="M787.95 276.5h1.2V321.9h-1.2zM787.39 293h3V315h-3z"/>
<path class="r" d="M790.95 290.7h1.2V307.4h-1.2zM789.54 293h3V305.6h-3z"/>
<path class="r" d="M792.95 286.4h1.2V311.2h-1.2zM791.69 305.6h3V307.5h-3z"/>
<path class="g" d="M794.95 279h1.2V313.9h-1.2zM793.85 285.4h3V307.5h-3z"/>
<path class="g" d="M796.95 256.3h1.2V292.4h-1.2zM796 270h3V285.4h-3z"/>
<path class="g" d="M798.95 244.7h1.2V273.3h-1.2zM798.15 267.8h3V270h-3z"/>
<path class="r" d="M800.95 265.3h1.2V295.6h-1.2zM800.3 267.8h3V289h-3z"/>
<path class="r" d="M802.95 283.4h1.2V300.7h-1.2zM802.46 289h3V299h-3z"/>
<path class="r" d="M805.95 294h1.2V303.6h-1.2zM804.61 299h3V300h-3z"/>
<path class="r" d="M807.95 287.3h1.2V329.1h-1.2zM806.76 300h3V325.8h-3z"/>
<path class="r" d="M809.95 323.4h1.2V335h-1.2zM808.92 325.8h3V333.5h-3z"/>
<path class="r" d="M811.95 325.8h1.2V348.4h-1.2zM811.07 333.5h3V345h-3z"/>
<path class="r" d="M813.95 338.2h1.2V358.8h-1.2zM813.22 345h3V356.6h-3z"/>
<path class="r" d="M815.95 349.8h1.2V373h-1.2zM815.38 356.6h3V362.4h-3z"/>
<path class="r" d="M818.95 358.9h1.2V372h-1.2zM817.53 362.4h3V366h-3z"/>
<path class="g" d="M820.95 343h1.2V371h-1.2zM819.68 349h3V366h-3z"/>
<path class="r" d="M822.95 347.2h1.2V354.1h-1.2zM821.83 349h3V350h-3z"/>
<path class="r" d="M824.95 337.4h1.2V388.3h-1.2zM823.99 349h3V381.7h-3z"/>
<path class="r" d="M826.95 379.1h1.2V396.7h-1.2zM826.14 381.7h3V393.2h-3z"/>
<path class="g" d="M828.95 375.3h1.2V394.9h-1.2zM828.29 381.7h3V393.2h-3z"/>
<path class="g" d="M830.95 349h1.2V387.7h-1.2zM830.45 354.7h3V381.7h-3z"/>
<path class="g" d="M833.95 336.5h1.2V356.4h-1.2zM832.6 342.2h3V354.7h-3z"/>
<path class="r" d="M835.95 340.5h1.2V356.5h-1.2zM834.75 342.2h3V354.7h-3z"/>
<path class="r" d="M837.95 348.1h1.2V361.5h-1.2zM836.9 354.7h3V358.6h-3z"/>
<path class="r" d="M839.95 331.6h1.2V369.8h-1.2zM839.06 358.6h3V363.4h-3z"/>
<path class="g" d="M841.95 335.9h1.2V366.4h-1.2zM841.21 339.3h3V363.4h-3z"/>
<path class="g" d="M843.95 330.7h1.2V344.2h-1.2zM843.36 337.4h3V339.3h-3z"/>
<path class="g" d="M846.95 307.5h1.2V342.8h-1.2zM845.52 310.4h3V337.4h-3z"/>
<path class="g" d="M848.95 305.3h1.2V313.4h-1.2zM847.67 308.5h3V310.4h-3z"/>
<path class="g" d="M850.95 286.4h1.2V314.2h-1.2zM849.82 295h3V308.5h-3z"/>
<path class="r" d="M852.95 288.5h1.2V309.7h-1.2zM851.98 295h3V304.7h-3z"/>
<path class="r" d="M854.95 298h1.2V314h-1.2zM854.13 304.7h3V312.4h-3z"/>
<path class="g" d="M856.95 301.9h1.2V320h-1.2zM856.28 304.7h3V312.4h-3z"/>
<path class="g" d="M858.95 292.2h1.2V311.4h-1.2zM858.44 299h3V304.7h-3z"/>
<path class="r" d="M861.95 293h1.2V305.6h-1.2zM860.59 299h3V302.7h-3z"/>
<path class="r" d="M863.95 298.8h1.2V323.2h-1.2zM862.74 302.7h3V319h-3z"/>
<path class="g" d="M865.95 297.1h1.2V321.5h-1.2zM864.89 303.7h3V319h-3z"/>
<path class="g" d="M867.95 294.9h1.2V309.3h-1.2zM867.05 300.8h3V303.7h-3z"/>
<path class="g" d="M869.95 289h1.2V306.6h-1.2zM869.2 295h3V300.8h-3z"/>
<path class="r" d="M871.95 290.2h1.2V299.3h-1.2zM871.35 295h3V296h-3z"/>
<path class="r" d="M874.95 292.7h1.2V302.5h-1.2zM873.51 296h3V299h-3z"/>
<path class="r" d="M876.95 279.6h1.2V301.9h-1.2zM875.66 299h3V300h-3z"/>
<path class="g" d="M878.95 291.4h1.2V305.6h-1.2zM877.81 294h3V300h-3z"/>
<path class="r" d="M880.95 284.4h1.2V296.9h-1.2zM879.97 294h3V295h-3z"/>
<path class="r" d="M882.95 293.3h1.2V305.3h-1.2zM882.12 295h3V300.8h-3z"/>
<path class="r" d="M884.95 297.5h1.2V313.5h-1.2zM884.27 300.8h3V306.6h-3z"/>
<path class="r" d="M886.95 300.2h1.2V315h-1.2zM886.42 306.6h3V311.4h-3z"/>
<path class="g" d="M889.95 302.6h1.2V313.4h-1.2zM888.58 305.6h3V311.4h-3z"/>
<path class="g" d="M891.95 300.7h1.2V316h-1.2zM890.73 302.7h3V305.6h-3z"/>
<path class="g" d="M893.95 293.6h1.2V306.7h-1.2zM892.88 299h3V302.7h-3z"/>
<path class="g" d="M895.95 294h1.2V302.8h-1.2zM895.04 298h3V299h-3z"/>
<path class="r" d="M897.95 293.1h1.2V350.2h-1.2zM897.19 298h3V345h-3z"/>
<path class="r" d="M899.95 339.4h1.2V366.7h-1.2zM899.34 345h3V360.5h-3z"/>
<path class="r" d="M901.95 356.7h1.2V383.9h-1.2zM901.5 360.5h3V381.7h-3z"/>
<path class="r" d="M904.95 375.6h1.2V398h-1.2zM903.65 381.7h3V395h-3z"/>
<path class="g" d="M906.95 363.4h1.2V398.6h-1.2zM905.8 383.6h3V395h-3z"/>
<path class="r" d="M908.95 368h1.2V387.2h-1.2zM907.95 383.6h3V384.6h-3z"/>
<path class="g" d="M910.95 374.1h1.2V386.4h-1.2zM910.11 377h3V383.6h-3z"/>
<path class="r" d="M912.95 361.5h1.2V384.4h-1.2zM912.26 377h3V378h-3z"/>
<path class="r" d="M914.95 373.3h1.2V411.5h-1.2zM914.41 378h3V399h-3z"/>
<path class="g" d="M917.95 394.3h1.2V404.8h-1.2zM916.57 398h3V399h-3z"/>
<path class="g" d="M919.95 377h1.2V400.8h-1.2zM918.72 380h3V398h-3z"/>
<path class="r" d="M921.95 374.1h1.2V421.1h-1.2zM920.87 380h3V416h-3z"/>
<path class="r" d="M923.95 409h1.2V442.5h-1.2zM923.02 416h3V440.4h-3z"/>
<path class="r" d="M925.95 436.3h1.2V460h-1.2zM925.18 440.4h3V454h-3z"/>
<path class="r" d="M927.95 447.9h1.2V473.9h-1.2zM927.33 454h3V467.4h-3z"/>
<path class="r" d="M929.95 465.7h1.2V472.4h-1.2zM929.48 467.4h3V469.3h-3z"/>
<path class="r" d="M932.95 467.1h1.2V476.5h-1.2zM931.64 469.3h3V474h-3z"/>
<path class="g" d="M934.95 450.9h1.2V481h-1.2zM933.79 457.8h3V474h-3z"/>
<path class="g" d="M936.95 445h1.2V461.3h-1.2zM935.94 455.8h3V457.8h-3z"/>
<path class="r" d="M938.95 449.5h1.2V504h-1.2zM938.1 455.8h3V500h-3z"/>
<path class="r" d="M940.95 497.1h1.2V525.2h-1.2zM940.25 500h3V519.4h-3z"/>
<path class="g" d="M942.95 508.8h1.2V536.7h-1.2zM942.4 515.5h3V519.4h-3z"/>
<path class="g" d="M945.95 503h1.2V533h-1.2zM944.56 507.8h3V515.5h-3z"/>
<path class="r" d="M947.95 505.1h1.2V519h-1.2zM946.71 507.8h3V515.5h-3z"/>
<path class="r" d="M949.95 498h1.2V523.9h-1.2zM948.86 515.5h3V521.3h-3z"/>
<path class="r" d="M951.95 518.4h1.2V530.8h-1.2zM951.01 521.3h3V526h-3z"/>
<path class="r" d="M953.95 520.9h1.2V545.4h-1.2zM953.17 526h3V538.6h-3z"/>
<path class="g" d="M955.95 507.8h1.2V541.9h-1.2zM955.32 517.5h3V538.6h-3z"/>
<path class="r" d="M957.95 494.4h1.2V525.5h-1.2zM957.47 517.5h3V523h-3z"/>
<path class="r" d="M960.95 519.8h1.2V549.2h-1.2zM959.63 523h3V536.7h-3z"/>
<path class="g" d="M962.95 519.1h1.2V541.2h-1.2zM961.78 525h3V536.7h-3z"/>
<path class="g" d="M964.95 513.7h1.2V546.4h-1.2zM963.93 515.5h3V525h-3z"/>
<path class="g" d="M966.95 506.1h1.2V520h-1.2zM966.09 509.8h3V515.5h-3z"/>
<path class="g" d="M968.95 476h1.2V511.8h-1.2zM968.24 496.3h3V509.8h-3z"/>
<path class="g" d="M970.95 480.4h1.2V501.6h-1.2zM970.39 482.8h3V496.3h-3z"/>
<path class="g" d="M973.95 464.5h1.2V485.9h-1.2zM972.54 480h3V482.8h-3z"/>
<path class="r" d="M975.95 476.8h1.2V516.5h-1.2zM974.7 480h3V509.8h-3z"/>
<path class="r" d="M977.95 506.6h1.2V539.4h-1.2zM976.85 509.8h3V534.8h-3z"/>
<path class="r" d="M979.95 531.3h1.2V543.4h-1.2zM979 534.8h3V539.6h-3z"/>
<path class="g" d="M981.95 510h1.2V546.6h-1.2zM981.16 519.6h3V539.6h-3z"/>
<path class="g" d="M983.95 507h1.2V522.2h-1.2zM983.31 515.5h3V519.6h-3z"/>
<path class="r" d="M985.95 513.6h1.2V539.3h-1.2zM985.46 515.5h3V536.7h-3z"/>
<path class="r" d="M988.95 535.2h1.2V560.5h-1.2zM987.62 536.7h3V554h-3z"/>
<path class="r" d="M990.95 550.2h1.2V575.7h-1.2zM989.77 554h3V569.7h-3z"/>
<path class="r" d="M992.95 566h1.2V578h-1.2zM991.92 569.7h3V571.6h-3z"/>
<path class="r" d="M994.95 567.6h1.2V575.9h-1.2zM994.07 571.6h3V573.5h-3z"/>
<path class="r" d="M996.95 571.9h1.2V591h-1.2zM996.23 573.5h3V586h-3z"/>
<path class="g" d="M998.95 560.8h1.2V592.5h-1.2zM998.38 565.8h3V586h-3z"/>
<path class="r" d="M1001.95 563h1.2V593.8h-1.2zM1000.53 565.8h3V573.5h-3z"/>
<path class="r" d="M1003.95 570h1.2V589.3h-1.2zM1002.69 573.5h3V585h-3z"/>
<path class="r" d="M1005.95 582.7h1.2V605.5h-1.2zM1004.84 585h3V602.4h-3z"/>
<path class="r" d="M1007.95 598h1.2V642.6h-1.2zM1006.99 602.4h3V636h-3z"/>
<path class="g" d="M1009.95 630.9h1.2V640.2h-1.2zM1009.14 633h3V636h-3z"/>
<path class="g" d="M1011.95 584h1.2V639.8h-1.2zM1011.3 598.6h3V633h-3z"/>
<path class="r" d="M1013.95 596h1.2V629.4h-1.2zM1013.45 598.6h3V619.8h-3z"/>
<path class="g" d="M1016.95 607.3h1.2V631.3h-1.2zM1015.6 614h3V619.8h-3z"/>
<path class="g" d="M1018.95 573.2h1.2V615.8h-1.2zM1017.76 577.4h3V614h-3z"/>
<path class="r" d="M1020.95 570.7h1.2V590.6h-1.2zM1019.91 577.4h3V587h-3z"/>
<path class="r" d="M1022.95 580.5h1.2V599.6h-1.2zM1022.06 587h3V594.7h-3z"/>
<path class="r" d="M1024.95 588.7h1.2V612.4h-1.2zM1024.22 594.7h3V610h-3z"/>
<path class="r" d="M1026.95 604.2h1.2V620.5h-1.2zM1026.37 610h3V617.8h-3z"/>
<path class="g" d="M1029.95 602.6h1.2V620.7h-1.2zM1028.52 606.3h3V617.8h-3z"/>
<path class="g" d="M1031.95 584.8h1.2V608.8h-1.2zM1030.68 590.9h3V606.3h-3z"/>
<path class="g" d="M1033.95 582.3h1.2V594.6h-1.2zM1032.83 585h3V590.9h-3z"/>
<path class="g" d="M1035.95 570.7h1.2V588.6h-1.2zM1034.98 576.4h3V585h-3z"/>
<path class="r" d="M1037.95 574.2h1.2V601.5h-1.2zM1037.13 576.4h3V598.6h-3z"/>
<path class="r" d="M1039.95 593.1h1.2V608h-1.2zM1039.29 598.6h3V599.6h-3z"/>
<path class="g" d="M1041.95 583.3h1.2V603.2h-1.2zM1041.44 585h3V598.6h-3z"/>
<path class="g" d="M1044.95 578.4h1.2V586.7h-1.2zM1043.59 584h3V585h-3z"/>
<path class="r" d="M1046.95 577.9h1.2V629.6h-1.2zM1045.75 584h3V627.5h-3z"/>
<path class="r" d="M1048.95 622.7h1.2V649.3h-1.2zM1047.9 627.5h3V644.8h-3z"/>
<path class="g" d="M1050.95 620.6h1.2V646.7h-1.2zM1050.05 625.5h3V644.8h-3z"/>
<path class="g" d="M1052.95 604.4h1.2V630.2h-1.2zM1052.2 614h3V625.5h-3z"/>
<path class="r" d="M1054.95 590h1.2V620.1h-1.2zM1054.36 614h3V615h-3z"/>
<path class="g" d="M1057.95 602.3h1.2V626.5h-1.2zM1056.51 606.3h3V615h-3z"/>
<path class="g" d="M1059.95 597.6h1.2V611.2h-1.2zM1058.66 602.4h3V606.3h-3z"/>
<path class="r" d="M1061.95 598.2h1.2V609.1h-1.2zM1060.82 602.4h3V606.3h-3z"/>
<path class="g" d="M1063.95 558.3h1.2V612.1h-1.2zM1062.97 564h3V606.3h-3z"/>
<path class="g" d="M1065.95 538.7h1.2V566.5h-1.2zM1065.12 542.7h3V564h-3z"/>
<path class="g" d="M1067.95 530.2h1.2V544.9h-1.2zM1067.28 541.8h3V542.8h-3z"/>
<path class="r" d="M1069.95 539.6h1.2V560.1h-1.2zM1069.43 541.8h3V556.2h-3z"/>
<path class="g" d="M1072.95 529h1.2V560.1h-1.2zM1071.58 531h3V556.2h-3z"/>
<path class="r" d="M1074.95 526.7h1.2V552.1h-1.2zM1073.73 531h3V550.4h-3z"/>
<path class="g" d="M1076.95 519.4h1.2V552.4h-1.2zM1075.89 524.4h3V550.4h-3z"/>
<path class="g" d="M1078.95 510h1.2V530.3h-1.2zM1078.04 523.5h3V524.5h-3z"/>
<path class="r" d="M1080.95 519.2h1.2V546.5h-1.2zM1080.19 523.5h3V544.7h-3z"/>
<path class="r" d="M1082.95 540.4h1.2V579.1h-1.2zM1082.35 544.7h3V575.5h-3z"/>
<path class="r" d="M1085.95 568.7h1.2V591.2h-1.2zM1084.5 575.5h3V589h-3z"/>
<path class="r" d="M1087.95 582.8h1.2V602.7h-1.2zM1086.65 589h3V595.7h-3z"/>
<path class="r" d="M1089.95 590.2h1.2V602.4h-1.2zM1088.81 595.7h3V600.5h-3z"/>
<path class="g" d="M1091.95 570.9h1.2V602.4h-1.2zM1090.96 573.5h3V600.5h-3z"/>
<path class="g" d="M1093.95 554.3h1.2V580.3h-1.2zM1093.11 571.6h3V573.5h-3z"/>
<path class="g" d="M1095.95 563.2h1.2V583.2h-1.2zM1095.27 569.7h3V571.6h-3z"/>
<path class="g" d="M1097.95 534h1.2V576.3h-1.2zM1097.42 556.2h3V569.7h-3z"/>
<path class="g" d="M1100.95 553.3h1.2V578.4h-1.2zM1099.57 555.2h3V556.2h-3z"/>
<path class="g" d="M1102.95 540.9h1.2V557.6h-1.2zM1101.72 546.6h3V555.2h-3z"/>
<path class="g" d="M1104.95 530.2h1.2V549.6h-1.2zM1103.88 540.8h3V546.6h-3z"/>
<path class="r" d="M1106.95 534.8h1.2V564.3h-1.2zM1106.03 540.8h3V562h-3z"/>
<path class="g" d="M1108.95 534.6h1.2V568.6h-1.2zM1108.18 538.9h3V562h-3z"/>
<path class="g" d="M1110.95 533.8h1.2V541.8h-1.2zM1110.34 536.5h3V538.9h-3z"/>
<path class="g" d="M1112.95 529.7h1.2V539.7h-1.2zM1112.49 534h3V536.5h-3z"/>
<path class="r" d="M1115.95 518.7h1.2V537.5h-1.2zM1114.64 534h3V535h-3z"/>
<path class="r" d="M1117.95 521.6h1.2V547.5h-1.2zM1116.8 534h3V540.8h-3z"/>
<path class="r" d="M1119.95 528.3h1.2V553h-1.2zM1118.95 540.8h3V546.6h-3z"/>
<path class="r" d="M1121.95 523.5h1.2V553.4h-1.2zM1121.1 546.6h3V547.6h-3z"/>
<path class="r" d="M1123.95 545.4h1.2V561h-1.2zM1123.25 547.5h3V558h-3z"/>
<path class="g" d="M1125.95 528h1.2V561.5h-1.2zM1125.41 533h3V558h-3z"/>
<path class="g" d="M1128.95 527.3h1.2V537.6h-1.2zM1127.56 531.2h3V533h-3z"/>
<path class="r" d="M1130.95 526.5h1.2V548.2h-1.2zM1129.71 531.2h3V541.8h-3z"/>
<path class="r" d="M1132.95 539.7h1.2V553.3h-1.2zM1131.87 541.8h3V542.8h-3z"/>
<path class="g" d="M1134.95 522.5h1.2V546.5h-1.2zM1134.02 541.8h3V542.8h-3z"/>
<path class="g" d="M1136.95 524.3h1.2V544.8h-1.2zM1136.17 530.2h3V541.8h-3z"/>
<path class="g" d="M1138.95 526.4h1.2V535h-1.2zM1138.33 529.3h3V530.3h-3z"/>
<path class="r" d="M1140.95 515.8h1.2V554.2h-1.2zM1140.48 529.3h3V548.5h-3z"/>
<path class="r" d="M1143.95 544.6h1.2V580.9h-1.2zM1142.63 548.5h3V578.4h-3z"/>
<path class="r" d="M1145.95 572.8h1.2V581.2h-1.2zM1144.78 578.4h3V579.4h-3z"/>
<path class="g" d="M1147.95 554.3h1.2V581.3h-1.2zM1146.94 561h3V578.4h-3z"/>
<path class="r" d="M1149.95 551.4h1.2V590.1h-1.2zM1149.09 561h3V583.2h-3z"/>
<path class="r" d="M1151.95 578.5h1.2V591.2h-1.2zM1151.24 583.2h3V586h-3z"/>
<path class="r" d="M1153.95 580.3h1.2V602h-1.2zM1153.4 586h3V600.5h-3z"/>
<path class="g" d="M1156.95 581.5h1.2V602.8h-1.2zM1155.55 583.2h3V600.5h-3z"/>
<path class="g" d="M1158.95 557.1h1.2V587.1h-1.2zM1157.7 562h3V583.2h-3z"/>
<path class="g" d="M1160.95 546.1h1.2V568.4h-1.2zM1159.86 550.4h3V562h-3z"/>
<path class="g" d="M1162.95 542.7h1.2V553.1h-1.2zM1162.01 546.6h3V550.4h-3z"/>
<path class="g" d="M1164.95 532.9h1.2V548.2h-1.2zM1164.16 538h3V546.6h-3z"/>
<path class="g" d="M1166.95 527.8h1.2V541.4h-1.2zM1166.31 529.3h3V538h-3z"/>
<path class="r" d="M1168.95 527.2h1.2V535.5h-1.2zM1168.47 529.3h3V532h-3z"/>
<path class="r" d="M1171.95 522.5h1.2V538.9h-1.2zM1170.62 532h3V533h-3z"/>
<path class="r" d="M1173.95 522.5h1.2V536.6h-1.2zM1172.77 533h3V534h-3z"/>
<path class="r" d="M1175.95 528.1h1.2V550.7h-1.2zM1174.93 533h3V546.6h-3z"/>
<path class="r" d="M1177.95 544.4h1.2V555.3h-1.2zM1177.08 546.6h3V550.4h-3z"/>
<path class="g" d="M1179.95 524.4h1.2V552.7h-1.2zM1179.23 527.3h3V550.4h-3z"/>
<path class="r" d="M1181.95 520.6h1.2V541.3h-1.2zM1181.38 527.3h3V536.3h-3z"/>
<path class="r" d="M1184.95 530h1.2V545.8h-1.2zM1183.54 536.3h3V540h-3z"/>
<path class="r" d="M1186.95 536.3h1.2V555h-1.2zM1185.69 540h3V552h-3z"/>
<path class="r" d="M1188.95 540h1.2V561.2h-1.2zM1187.84 552h3V556.2h-3z"/>
<path class="g" d="M1190.95 550.9h1.2V559.9h-1.2zM1190 555.5h3V556.5h-3z"/>
<path class="r" d="M1192.95 550.4h1.2V567.4h-1.2zM1192.15 555.5h3V563.5h-3z"/>
<path class="r" d="M1194.95 556.8h1.2V572.6h-1.2zM1194.3 563.5h3V569.7h-3z"/>
<path class="r" d="M1196.95 566.8h1.2V577.7h-1.2zM1196.46 569.7h3V570.7h-3z"/>
<path class="g" d="M1199.95 558h1.2V574.9h-1.2zM1198.61 561h3V570.5h-3z"/>
<path class="r" d="M1201.95 552.6h1.2V565.8h-1.2zM1200.76 561h3V563h-3z"/>
<path class="g" d="M1203.95 547.2h1.2V572h-1.2zM1202.91 549h3V563h-3z"/>
<path class="g" d="M1205.95 538.9h1.2V553.5h-1.2zM1205.07 540.5h3V549h-3z"/>
<path class="g" d="M1207.95 536h1.2V542.8h-1.2zM1207.22 538h3V540.5h-3z"/>
<path class="r" d="M1209.95 535.4h1.2V549.8h-1.2zM1209.37 538h3V545h-3z"/>
<path class="g" d="M1212.95 525h1.2V550h-1.2zM1211.53 532h3V545h-3z"/>
<path class="r" d="M1214.95 526h1.2V545h-1.2zM1213.68 532h3V542.5h-3z"/>
<path class="g" d="M1216.95 506.8h1.2V545.7h-1.2zM1215.83 510h3V542.5h-3z"/>
<path class="g" d="M1218.95 486.2h1.2V516.4h-1.2zM1217.99 488h3V510h-3z"/>
<path class="g" d="M1220.95 477.5h1.2V493.4h-1.2zM1220.14 487h3V488h-3z"/>
<path class="r" d="M1222.95 480.4h1.2V503.9h-1.2zM1222.29 487h3V497.8h-3z"/>
<path class="r" d="M1224.95 492.2h1.2V507.4h-1.2zM1224.44 497.8h3V501.6h-3z"/>
<path class="g" d="M1227.95 491.2h1.2V511.2h-1.2zM1226.6 496.8h3V501.6h-3z"/>
<path class="g" d="M1229.95 489.3h1.2V503.5h-1.2zM1228.75 492h3V496.8h-3z"/>
<path class="g" d="M1231.95 483.4h1.2V493.7h-1.2zM1230.9 486.2h3V492h-3z"/>
<path class="g" d="M1233.95 469h1.2V491.8h-1.2zM1233.06 478.5h3V486.2h-3z"/>
<path class="r" d="M1235.95 473.2h1.2V498.1h-1.2zM1235.21 478.5h3V492h-3z"/>
<path class="r" d="M1237.95 472.7h1.2V497h-1.2zM1237.36 492h3V494h-3z"/>
<path class="r" d="M1240.95 489.5h1.2V513.2h-1.2zM1239.52 494h3V509.3h-3z"/>
<path class="r" d="M1242.95 503.5h1.2V522.8h-1.2zM1241.67 509.3h3V517h-3z"/>
<path class="g" d="M1244.95 498.6h1.2V522h-1.2zM1243.82 501.6h3V517h-3z"/>
<path class="r" d="M1246.95 494.8h1.2V517.7h-1.2zM1245.97 501.6h3V515h-3z"/>
<path class="r" d="M1248.95 508.7h1.2V536h-1.2zM1248.13 515h3V534.4h-3z"/>
<path class="r" d="M1250.95 531.5h1.2V538.2h-1.2zM1250.28 534.4h3V535.4h-3z"/>
<path class="g" d="M1252.95 527.6h1.2V541.1h-1.2zM1252.43 533.4h3V534.4h-3z"/>
<path class="r" d="M1255.95 527.8h1.2V549.3h-1.2zM1254.59 533.4h3V546h-3z"/>
<path class="r" d="M1257.95 539.7h1.2V549.8h-1.2zM1256.74 546h3V547h-3z"/>
<path class="g" d="M1259.95 537.2h1.2V553.5h-1.2zM1258.89 540h3V547h-3z"/>
<path class="r" d="M1261.95 535h1.2V558.9h-1.2zM1261.05 540h3V553.6h-3z"/>
<path class="g" d="M1263.95 523.4h1.2V560.5h-1.2zM1263.2 528.6h3V553.6h-3z"/>
<path class="g" d="M1265.95 520.6h1.2V534.7h-1.2zM1265.35 524.7h3V528.6h-3z"/>
<path class="g" d="M1268.95 507.7h1.2V530.9h-1.2zM1267.51 513h3V524.7h-3z"/>
<path class="g" d="M1270.95 499.6h1.2V518.5h-1.2zM1269.66 503.5h3V513h-3z"/>
<path class="g" d="M1272.95 493.2h1.2V506.7h-1.2zM1271.81 497.8h3V503.5h-3z"/>
<path class="g" d="M1274.95 477.7h1.2V502.7h-1.2zM1273.96 480.4h3V497.8h-3z"/>
<path class="g" d="M1276.95 467h1.2V486.9h-1.2zM1276.12 471.8h3V480.4h-3z"/>
<path class="r" d="M1278.95 469.5h1.2V498.4h-1.2zM1278.27 471.8h3V496.8h-3z"/>
<path class="r" d="M1280.95 494.7h1.2V518.8h-1.2zM1280.42 496.8h3V512.2h-3z"/>
<path class="g" d="M1283.95 488h1.2V514.5h-1.2zM1282.58 497.8h3V512.2h-3z"/>
<path class="r" d="M1285.95 496.1h1.2V517h-1.2zM1284.73 497.8h3V511.2h-3z"/>
<path class="r" d="M1287.95 505.9h1.2V525h-1.2zM1286.88 511.2h3V520h-3z"/>
<path class="r" d="M1289.95 514.7h1.2V526.6h-1.2zM1289.04 520h3V521h-3z"/>
<path class="r" d="M1291.95 496.8h1.2V529.4h-1.2zM1291.19 520.9h3V524.7h-3z"/>
<path class="r" d="M1293.95 521.2h1.2V533.6h-1.2zM1293.34 524.7h3V527.6h-3z"/>
<path class="r" d="M1295.95 521.6h1.2V536.9h-1.2zM1295.49 527.6h3V530.5h-3z"/>
<path class="r" d="M1298.95 528.6h1.2V534.4h-1.2zM1297.65 530.5h3V531.5h-3z"/>
<path class="g" d="M1300.95 512.2h1.2V538.2h-1.2zM1299.8 519h3V531.5h-3z"/>
<path class="r" d="M1302.95 512.2h1.2V533.1h-1.2zM1301.95 519h3V530.5h-3z"/>
<path class="r" d="M1304.95 528.4h1.2V545.7h-1.2zM1304.11 530.5h3V544h-3z"/>
<path class="r" d="M1306.95 537.8h1.2V557h-1.2zM1306.26 544h3V549.8h-3z"/>
<path class="r" d="M1308.95 544.8h1.2V557.5h-1.2zM1308.41 549.8h3V551.7h-3z"/>
<path class="g" d="M1311.95 542.8h1.2V566.6h-1.2zM1310.57 547.8h3V551.7h-3z"/>
<path class="r" d="M1313.95 545.8h1.2V556.6h-1.2zM1312.72 547.8h3V554.6h-3z"/>
<path class="g" d="M1315.95 540.3h1.2V557.2h-1.2zM1314.87 546h3V554.6h-3z"/>
<path class="g" d="M1317.95 530.5h1.2V549.8h-1.2zM1317.02 542h3V546h-3z"/>
<path class="r" d="M1319.95 540.4h1.2V566.2h-1.2zM1319.18 542h3V563.3h-3z"/>
<path class="r" d="M1321.95 560.2h1.2V569.7h-1.2zM1321.33 563.3h3V564.3h-3z"/>
<path class="r" d="M1323.95 560.7h1.2V575.5h-1.2zM1323.48 564.2h3V568.5h-3z"/>
<path class="g" d="M1326.95 557.2h1.2V579h-1.2zM1325.64 564h3V568.5h-3z"/>
<path class="r" d="M1328.95 557.3h1.2V570.9h-1.2zM1327.79 564h3V566h-3z"/>
<path class="r" d="M1330.95 564.3h1.2V578.3h-1.2zM1329.94 566h3V568h-3z"/>
<path class="r" d="M1332.95 559.5h1.2V574.8h-1.2zM1332.1 568h3V569h-3z"/>
<path class="r" d="M1334.95 565.1h1.2V574.4h-1.2zM1334.25 568.5h3V569.5h-3z"/>
<path class="r" d="M1336.95 561h1.2V585h-1.2zM1336.4 569.3h3V582.3h-3z"/>
<path class="g" d="M1339.95 573.3h1.2V594h-1.2zM1338.55 579.5h3V582.3h-3z"/>
<path class="g" d="M1341.95 571.3h1.2V582.4h-1.2zM1340.71 579h3V580h-3z"/>
<path class="r" d="M1343.95 573.6h1.2V597.3h-1.2zM1342.86 579h3V594.7h-3z"/>
<path class="r" d="M1345.95 589h1.2V616.5h-1.2zM1345.01 594.7h3V609.6h-3z"/>
<path class="g" d="M1347.95 599.5h1.2V613.8h-1.2zM1347.17 601h3V609.6h-3z"/>
<path class="g" d="M1349.95 581.5h1.2V606.9h-1.2zM1349.32 583.8h3V601h-3z"/>
<path class="r" d="M1351.95 580h1.2V593h-1.2zM1351.47 583.8h3V588.5h-3z"/>
<path class="r" d="M1354.95 585.1h1.2V622.7h-1.2zM1353.62 588.5h3V616.6h-3z"/>
<path class="r" d="M1356.95 613.7h1.2V624.3h-1.2zM1355.78 616.6h3V617.6h-3z"/>
<path class="g" d="M1358.95 601h1.2V619.3h-1.2zM1357.93 607.3h3V616.6h-3z"/>
<path class="r" d="M1360.95 602h1.2V619h-1.2zM1360.08 607.3h3V612h-3z"/>
<path class="g" d="M1362.95 588.5h1.2V617h-1.2zM1362.24 596.3h3V612h-3z"/>
<path class="g" d="M1364.95 591.1h1.2V602.1h-1.2zM1364.39 593h3V596.3h-3z"/>
<path class="g" d="M1367.95 576.8h1.2V600h-1.2zM1366.54 579h3V593h-3z"/>
<path class="r" d="M1369.95 574h1.2V596.5h-1.2zM1368.7 579h3V593h-3z"/>
<path class="g" d="M1371.95 575.3h1.2V596.7h-1.2zM1370.85 579h3V593h-3z"/>
<path class="r" d="M1373.95 569h1.2V596.7h-1.2zM1373 579h3V594.7h-3z"/>
<path class="r" d="M1375.95 588.3h1.2V608.8h-1.2zM1375.15 594.7h3V598.6h-3z"/>
<path class="r" d="M1377.95 596h1.2V621.9h-1.2zM1377.31 598.6h3V619h-3z"/>
<path class="r" d="M1379.95 612.5h1.2V624.3h-1.2zM1379.46 619h3V620h-3z"/>
<path class="g" d="M1382.95 603.7h1.2V657.3h-1.2zM1381.61 607.3h3V619.8h-3z"/>
<path class="g" d="M1384.95 591.9h1.2V611.3h-1.2zM1383.77 594.7h3V607.3h-3z"/>
<path class="r" d="M1386.95 591.6h1.2V606.6h-1.2zM1385.92 594.7h3V601h-3z"/>
<path class="g" d="M1388.95 593h1.2V612.7h-1.2zM1388.07 598.6h3V601h-3z"/>
<path class="g" d="M1390.95 583h1.2V601.9h-1.2zM1390.23 590h3V598.6h-3z"/>
<path class="g" d="M9.5 549.7V568.3M8 553h3V566h-3z"/>
<path class="g" d="M11.7 535.9V554.9M10.2 541h3V553h-3z"/>
<path class="g" d="M13.8 524.6V544.5M12.3 529h3V541h-3z"/>
<path class="r" d="M16 521V536.3M14.5 529h3V532h-3z"/>
<path class="r" d="M18.1 530.3V539M16.6 532h3V533h-3z"/>
<path class="g" d="M20.3 527.1V535M18.8 529h3V533h-3z"/>
<path class="g" d="M22.4 511.7V535M20.9 515.5h3V529h-3z"/>
<path class="g" d="M24.6 496V518.2M23.1 502h3V515.5h-3z"/>
<path class="r" d="M26.7 497V514.7M25.2 502h3V508h-3z"/>
<path class="r" d="M28.9 503.3V515.7M27.4 508h3V512h-3z"/>
<path class="g" d="M31 495.1V513.8M29.5 502h3V512h-3z"/>
<path class="g" d="M33.2 493.8V505.1M31.7 500h3V502h-3z"/>
<path class="r" d="M35.3 489.5V517.6M33.8 500h3V515.5h-3z"/>
<path class="g" d="M37.5 504.8V521.5M36 508h3V515.5h-3z"/>
<path class="g" d="M39.6 497.5V512.7M38.1 500h3V508h-3z"/>
<path class="r" d="M41.8 495V526.5M40.3 500h3V523h-3z"/>
<path class="g" d="M43.9 515.5V527M42.4 520h3V523h-3z"/>
<path class="g" d="M46.1 508.2V522.6M44.6 510h3V520h-3z"/>
<path class="g" d="M48.3 498.8V513.9M46.8 504h3V510h-3z"/>
<path class="g" d="M50.4 493.8V508.7M48.9 497h3V504h-3z"/>
<path class="r" d="M52.6 493V514.8M51.1 497h3V511.7h-3z"/>
<path class="r" d="M54.7 505.8V529M53.2 511.7h3V513.6h-3z"/>
<path class="g" d="M56.9 489.6V518.3M55.4 492.4h3V513.6h-3z"/>
<path class="g" d="M59 474.6V498.7M57.5 479h3V492.4h-3z"/>
<path class="g" d="M61.2 467.5V482.1M59.7 473h3V479h-3z"/>
<path class="g" d="M63.3 450.9V475.1M61.8 457.8h3V473h-3z"/>
<path class="g" d="M65.5 437.6V463.5M64 441.4h3V457.8h-3z"/>
<path class="g" d="M67.6 431.8V445.6M66.1 434.7h3V441.4h-3z"/>
<path class="r" d="M69.8 433V453.2M68.3 434.7h3V448h-3z"/>
<path class="r" d="M71.9 442.3V462.6M70.4 448h3V457.8h-3z"/>
<path class="g" d="M74.1 435.7V461M72.6 442h3V457.8h-3z"/>
<path class="r" d="M76.2 438.5V456.8M74.7 442h3V452h-3z"/>
<path class="r" d="M78.4 447.3V465.6M76.9 452h3V461.6h-3z"/>
<path class="g" d="M80.5 435.9V463.5M79 442h3V461.6h-3z"/>
<path class="g" d="M82.7 421V447.2M81.2 427h3V442h-3z"/>
<path class="r" d="M84.9 425.2V435.4M83.4 427h3V430h-3z"/>
<path class="g" d="M87 417.9V437M85.5 423h3V430h-3z"/>
<path class="g" d="M89.2 413V436.6M87.7 419h3V423h-3z"/>
<path class="g" d="M91.3 405.1V424.2M89.8 408.7h3V419h-3z"/>
<path class="g" d="M93.5 390.4V412.7M92 392h3V408.7h-3z"/>
<path class="g" d="M95.6 367V394.1M94.1 375h3V392h-3z"/>
<path class="r" d="M97.8 373.2V415.7M96.3 375h3V410h-3z"/>
<path class="r" d="M99.9 407.8V417.9M98.4 410h3V415h-3z"/>
<path class="r" d="M102.1 411.3V436.3M100.6 415h3V430h-3z"/>
<path class="r" d="M104.2 428.1V531M102.7 430h3V489.5h-3z"/>
<path class="g" d="M106.4 445.5V500M104.9 450h3V489.5h-3z"/>
<path class="r" d="M108.5 440V462.3M107 450h3V456h-3z"/>
<path class="g" d="M110.7 445V459.8M109.2 448h3V456h-3z"/>
<path class="g" d="M112.8 425.5V454.4M111.3 429h3V448h-3z"/>
<path class="g" d="M115 393.2V431.3M113.5 400h3V429h-3z"/>
<path class="g" d="M117.2 362.5V402.8M115.7 365h3V400h-3z"/>
<path class="g" d="M119.3 347V369.2M117.8 349.8h3V365h-3z"/>
<path class="g" d="M121.5 337.3V352.7M120 342h3V349.8h-3z"/>
<path class="r" d="M123.6 340.5V373M122.1 342h3V361h-3z"/>
<path class="g" d="M125.8 321.2V382M124.3 324.7h3V361h-3z"/>
<path class="g" d="M127.9 301.6V330M126.4 317h3V324.7h-3z"/>
<path class="r" d="M130.1 295V335.4M128.6 317h3V330.5h-3z"/>
<path class="r" d="M132.2 325.3V360.8M130.7 330.5h3V359h-3z"/>
<path class="r" d="M134.4 352.6V386.3M132.9 359h3V380.5h-3z"/>
<path class="g" d="M136.5 366.7V396M135 373h3V380.5h-3z"/>
<path class="r" d="M138.7 369.3V382.3M137.2 373h3V378.6h-3z"/>
<path class="r" d="M140.8 363V405M139.3 378.6h3V400h-3z"/>
<path class="g" d="M143 390.2V401.9M141.5 392h3V400h-3z"/>
<path class="g" d="M145.1 381.4V394.4M143.6 384h3V392h-3z"/>
<path class="r" d="M147.3 380.6V391.8M145.8 384h3V390h-3z"/>
<path class="g" d="M149.4 352.6V392.3M147.9 361h3V390h-3z"/>
<path class="r" d="M151.6 347V382.1M150.1 361h3V378.6h-3z"/>
<path class="g" d="M153.8 371.4V415M152.3 373h3V378.6h-3z"/>
<path class="g" d="M155.9 339.1V375.3M154.4 344h3V373h-3z"/>
<path class="r" d="M158.1 341.1V358.9M156.6 344h3V355.5h-3z"/>
<path class="g" d="M160.2 332.5V357.7M158.7 336h3V355.5h-3z"/>
<path class="g" d="M162.4 310.8V343M160.9 317h3V336h-3z"/>
<path class="g" d="M164.5 281.4V321.2M163 307.4h3V317h-3z"/>
<path class="r" d="M166.7 305.4V313.1M165.2 307.4h3V311h-3z"/>
<path class="r" d="M168.8 285V331.6M167.3 300h3V328.6h-3z"/>
<path class="r" d="M171 288V353.6M169.5 298h3V347.8h-3z"/>
<path class="g" d="M173.1 323.1V354.5M171.6 324.7h3V347.8h-3z"/>
<path class="g" d="M175.3 314.6V344M173.8 319h3V324.7h-3z"/>
<path class="g" d="M177.4 302.9V320.6M175.9 307.4h3V319h-3z"/>
<path class="g" d="M179.6 295V314.3M178.1 301.6h3V307.4h-3z"/>
<path class="r" d="M181.7 275.6V310.8M180.2 301.6h3V305.5h-3z"/>
<path class="g" d="M183.9 298.7V309M182.4 301.6h3V305.5h-3z"/>
<path class="g" d="M186 287.6V307.3M184.5 290h3V301.6h-3z"/>
<path class="g" d="M188.2 269V308.4M186.7 274.7h3V290h-3z"/>
<path class="g" d="M190.4 259V277.4M188.9 272.7h3V274.7h-3z"/>
<path class="g" d="M192.5 257V279.6M191 263h3V272.7h-3z"/>
<path class="r" d="M194.7 256.8V282.5M193.2 263h3V276.6h-3z"/>
<path class="r" d="M196.8 270.6V303.5M195.3 276.6h3V296.8h-3z"/>
<path class="g" d="M199 270V301.1M197.5 272.7h3V296.8h-3z"/>
<path class="g" d="M201.1 259.5V274.4M199.6 263h3V272.7h-3z"/>
<path class="g" d="M203.3 257.3V266M201.8 259h3V263h-3z"/>
<path class="g" d="M205.4 250.6V283M203.9 253.5h3V259h-3z"/>
<path class="g" d="M207.6 240V257.5M206.1 251.5h3V253.5h-3z"/>
<path class="r" d="M209.7 234V273.9M208.2 251.5h3V267h-3z"/>
<path class="r" d="M211.9 260.2V355.5M210.4 267h3V303.5h-3z"/>
<path class="r" d="M214 300.8V367.7M212.5 303.5h3V365h-3z"/>
<path class="r" d="M216.2 362.4V402.6M214.7 365h3V400h-3z"/>
<path class="g" d="M218.3 375V406.5M216.8 394h3V400h-3z"/>
<path class="r" d="M220.5 387.9V410.1M219 394h3V406h-3z"/>
<path class="r" d="M222.6 400.9V482M221.1 406h3V469h-3z"/>
<path class="g" d="M224.8 436.5V500M223.3 438.5h3V469h-3z"/>
<path class="g" d="M227 431V512.6M225.5 437.5h3V438.5h-3z"/>
<path class="r" d="M229.1 415V448.1M227.6 437.5h3V444h-3z"/>
<path class="r" d="M231.3 441.5V528.8M229.8 444h3V523h-3z"/>
<path class="r" d="M233.4 519.7V715M231.9 523h3V700h-3z"/>
<path class="g" d="M235.6 633.2V703.7M234.1 640h3V700h-3z"/>
<path class="r" d="M237.7 614V753M236.2 640h3V733h-3z"/>
<path class="g" d="M239.9 622V759M238.4 656h3V733h-3z"/>
<path class="r" d="M242 625V688.3M240.5 656h3V686h-3z"/>
<path class="r" d="M244.2 679.5V710.9M242.7 686h3V705h-3z"/>
<path class="r" d="M246.3 702.7V749M244.8 705h3V719h-3z"/>
<path class="g" d="M248.5 678.1V727M247 685h3V719h-3z"/>
<path class="g" d="M250.6 676V689.5M249.1 680h3V685h-3z"/>
<path class="g" d="M252.8 647.8V681.6M251.3 650h3V680h-3z"/>
<path class="g" d="M254.9 604V655.1M253.4 644h3V650h-3z"/>
<path class="g" d="M257.1 635.6V650.6M255.6 640h3V644h-3z"/>
<path class="g" d="M259.2 606.1V646.3M257.7 610h3V640h-3z"/>
<path class="r" d="M261.4 586V625.7M259.9 610h3V623h-3z"/>
<path class="r" d="M263.6 620.1V658.1M262.1 623h3V655h-3z"/>
<path class="r" d="M265.7 652.2V716.7M264.2 655h3V712h-3z"/>
<path class="g" d="M267.9 653.1V715.8M266.4 656h3V712h-3z"/>
<path class="r" d="M270 653.8V684.5M268.5 656h3V678h-3z"/>
<path class="r" d="M272.2 644V704M270.7 678h3V700h-3z"/>
<path class="r" d="M274.3 676.3V712.5M272.8 681h3V706h-3z"/>
<path class="r" d="M276.5 692.2V714.7M275 696h3V707h-3z"/>
<path class="r" d="M278.6 702.7V712.4M277.1 707h3V708h-3z"/>
<path class="g" d="M280.8 679.6V721M279.3 684h3V707h-3z"/>
<path class="g" d="M282.9 639.1V686.5M281.4 643h3V684h-3z"/>
<path class="g" d="M285.1 610.4V648.9M283.6 633h3V643h-3z"/>
<path class="g" d="M287.2 612.6V655M285.7 615h3V633h-3z"/>
<path class="g" d="M289.4 596.5V619.6M287.9 602h3V615h-3z"/>
<path class="g" d="M291.5 573V629M290 598h3V602h-3z"/>
<path class="g" d="M293.7 587.4V603.8M292.2 592h3V598h-3z"/>
<path class="g" d="M295.8 568.9V596.6M294.3 571h3V592h-3z"/>
<path class="g" d="M298 525.7V574M296.5 528.6h3V571h-3z"/>
<path class="r" d="M300.2 522.9V559.8M298.7 528.6h3V555.5h-3z"/>
<path class="g" d="M302.3 500.9V560M300.8 505.5h3V555.5h-3z"/>
<path class="g" d="M304.5 477.8V509.4M303 484.3h3V505.5h-3z"/>
<path class="r" d="M306.6 449.6V500.3M305.1 484.3h3V496h-3z"/>
<path class="g" d="M308.8 453.5V509M307.3 469h3V496h-3z"/>
<path class="r" d="M310.9 465V482.9M309.4 469h3V478.5h-3z"/>
<path class="g" d="M313.1 470.6V514M311.6 474.7h3V478.5h-3z"/>
<path class="r" d="M315.2 465V504.1M313.7 474.7h3V497.8h-3z"/>
<path class="r" d="M317.4 491.1V523M315.9 497.8h3V517h-3z"/>
<path class="g" d="M319.5 481.6V525.7M318 486.2h3V517h-3z"/>
<path class="g" d="M321.7 456.9V488.5M320.2 463h3V486.2h-3z"/>
<path class="g" d="M323.8 433.8V466.9M322.3 436h3V463h-3z"/>
<path class="r" d="M326 421V444.8M324.5 436h3V442h-3z"/>
<path class="r" d="M328.1 420V460M326.6 442h3V446h-3z"/>
<path class="g" d="M330.3 426.7V464M328.8 432.5h3V446h-3z"/>
<path class="g" d="M332.4 422.5V452M330.9 424.8h3V432.5h-3z"/>
<path class="g" d="M334.6 409.9V427.1M333.1 415h3V424.8h-3z"/>
<path class="g" d="M336.8 387.6V421.8M335.3 394h3V415h-3z"/>
<path class="r" d="M338.9 380.5V401.7M337.4 394h3V395h-3z"/>
<path class="r" d="M341.1 378.6V402.2M339.6 394h3V398h-3z"/>
<path class="r" d="M343.2 391.1V407.5M341.7 398h3V399.8h-3z"/>
<path class="g" d="M345.4 343.4V403.7M343.9 345.8h3V399.8h-3z"/>
<path class="g" d="M347.5 312V349.2M346 319h3V345.8h-3z"/>
<path class="r" d="M349.7 304.4V323.3M348.2 319h3V320h-3z"/>
<path class="r" d="M351.8 313.5V357.4M350.3 319h3V349.7h-3z"/>
<path class="g" d="M354 322.1V361M352.5 326.6h3V349.7h-3z"/>
<path class="g" d="M356.1 297.7V329.9M354.6 302.5h3V326.6h-3z"/>
<path class="r" d="M358.3 293V330.9M356.8 302.5h3V326.6h-3z"/>
<path class="r" d="M360.4 324.7V355.5M358.9 326.6h3V340h-3z"/>
<path class="g" d="M362.6 305.4V346.8M361.1 338h3V340h-3z"/>
<path class="g" d="M364.7 321.8V341M363.2 334h3V338h-3z"/>
<path class="r" d="M366.9 332.3V368.8M365.4 334h3V363h-3z"/>
<path class="r" d="M369.1 360V384.4M367.6 363h3V373.8h-3z"/>
<path class="g" d="M371.2 351.7V380.3M369.7 355.5h3V373.8h-3z"/>
<path class="g" d="M373.4 309V358.4M371.9 315h3V355.5h-3z"/>
<path class="r" d="M375.5 303.5V329.3M374 315h3V322.7h-3z"/>
<path class="r" d="M377.7 309V345.4M376.2 322.7h3V340h-3z"/>
<path class="r" d="M379.8 338V372.8M378.3 340h3V371h-3z"/>
<path class="r" d="M382 365.7V406.5M380.5 371h3V395h-3z"/>
<path class="g" d="M384.1 365.1V401.7M382.6 367h3V395h-3z"/>
<path class="g" d="M386.3 344V372.9M384.8 351.6h3V367h-3z"/>
<path class="r" d="M388.4 349.6V375.7M386.9 351.6h3V357.4h-3z"/>
<path class="g" d="M390.6 338.1V363.6M389.1 340h3V357.4h-3z"/>
<path class="g" d="M392.7 321.8V343.4M391.2 326.6h3V340h-3z"/>
<path class="g" d="M394.9 314V333.2M393.4 325.6h3V326.6h-3z"/>
<path class="r" d="M397 322.6V348.7M395.5 325.6h3V344h-3z"/>
<path class="g" d="M399.2 320.3V346.8M397.7 324.7h3V344h-3z"/>
<path class="g" d="M401.3 300.4V327.1M399.8 302.5h3V324.7h-3z"/>
<path class="r" d="M403.5 295.8V317.6M402 302.5h3V315h-3z"/>
<path class="r" d="M405.7 311.8V326.6M404.2 315h3V316h-3z"/>
<path class="r" d="M407.8 304.4V327.8M406.3 315h3V324.7h-3z"/>
<path class="r" d="M410 320.4V389M408.5 324.7h3V369h-3z"/>
<path class="r" d="M412.1 365.6V371.6M410.6 369h3V370h-3z"/>
<path class="r" d="M414.3 366.1V476M412.8 369h3V444h-3z"/>
<path class="g" d="M416.4 416.5V448.5M414.9 422h3V444h-3z"/>
<path class="r" d="M418.6 419.5V460.1M417.1 422h3V456h-3z"/>
<path class="g" d="M420.7 401.4V475M419.2 408h3V456h-3z"/>
<path class="g" d="M422.9 382V411.9M421.4 388h3V408h-3z"/>
<path class="g" d="M425 368V394.1M423.5 382.4h3V388h-3z"/>
<path class="r" d="M427.2 378.7V390.3M425.7 382.4h3V386h-3z"/>
<path class="r" d="M429.3 380.7V442M427.8 386h3V428.6h-3z"/>
<path class="g" d="M431.5 375.2V440M430 378.6h3V428.6h-3z"/>
<path class="g" d="M433.6 348.1V398M432.1 353.5h3V378.6h-3z"/>
<path class="g" d="M435.8 334.3V356.9M434.3 338h3V353.5h-3z"/>
<path class="g" d="M437.9 318V340.2M436.4 322.7h3V338h-3z"/>
<path class="r" d="M440.1 320.8V364.9M438.6 322.7h3V359.3h-3z"/>
<path class="r" d="M442.3 356.4V371M440.8 359.3h3V360.3h-3z"/>
<path class="g" d="M444.4 347.7V379.5M442.9 349.7h3V360.3h-3z"/>
<path class="g" d="M446.6 320.3V367M445.1 326.6h3V349.7h-3z"/>
<path class="g" d="M448.7 307.9V329.4M447.2 311h3V326.6h-3z"/>
<path class="g" d="M450.9 294.6V315M449.4 297.7h3V311h-3z"/>
<path class="g" d="M453 277.6V301.7M451.5 280h3V297.7h-3z"/>
<path class="g" d="M455.2 246.9V286.8M453.7 249.8h3V280h-3z"/>
<path class="g" d="M457.3 223.7V275M455.8 230.5h3V249.8h-3z"/>
<path class="g" d="M459.5 211V237.3M458 226.7h3V230.5h-3z"/>
<path class="r" d="M461.6 223.5V257.5M460.1 226.7h3V238h-3z"/>
<path class="r" d="M463.8 236.5V259.4M462.3 238h3V239h-3z"/>
<path class="g" d="M465.9 186V243.3M464.4 190h3V239h-3z"/>
<path class="r" d="M468.1 187.4V234.8M466.6 190h3V230.5h-3z"/>
<path class="r" d="M470.2 229V250.8M468.7 230.5h3V247.8h-3z"/>
<path class="r" d="M472.4 245.8V265M470.9 247.8h3V262.3h-3z"/>
<path class="g" d="M474.5 221.1V275M473 222.8h3V262.3h-3z"/>
<path class="r" d="M476.7 217V235.2M475.2 222.8h3V232.4h-3z"/>
<path class="g" d="M478.9 202.7V236.8M477.4 207.4h3V232.4h-3z"/>
<path class="g" d="M481 199.9V212.5M479.5 205.5h3V207.4h-3z"/>
<path class="g" d="M483.2 177.5V211.8M481.7 180.4h3V205.5h-3z"/>
<path class="r" d="M485.3 176.8V218.3M483.8 180.4h3V215h-3z"/>
<path class="r" d="M487.5 208.1V239M486 215h3V226.7h-3z"/>
<path class="g" d="M489.6 201.6V234.4M488.1 222.8h3V226.7h-3z"/>
<path class="g" d="M491.8 209.3V229.5M490.3 211h3V222.8h-3z"/>
<path class="g" d="M493.9 184.3V216M492.4 192h3V211h-3z"/>
<path class="r" d="M496.1 186.5V215.3M494.6 192h3V209.3h-3z"/>
<path class="g" d="M498.2 191.7V217M496.7 194h3V209.3h-3z"/>
<path class="g" d="M500.4 182.7V200.1M498.9 187h3V194h-3z"/>
<path class="r" d="M502.5 184.3V199M501 187h3V193h-3z"/>
<path class="r" d="M504.7 188.3V221.4M503.2 193h3V215h-3z"/>
<path class="r" d="M506.8 209.7V252.7M505.3 215h3V217h-3z"/>
<path class="g" d="M509 171.8V218.7M507.5 176.6h3V217h-3z"/>
<path class="g" d="M511.1 156.1V180.1M509.6 158.3h3V176.6h-3z"/>
<path class="g" d="M513.3 130.7V164.4M511.8 132.8h3V158.3h-3z"/>
<path class="r" d="M515.5 128.2V150M514 132.8h3V134.7h-3z"/>
<path class="g" d="M517.6 104.8V139.9M516.1 109.7h3V134.7h-3z"/>
<path class="g" d="M519.8 74.7V111.2M518.3 78.9h3V109.7h-3z"/>
<path class="r" d="M521.9 73V139.5M520.4 78.9h3V90.4h-3z"/>
<path class="r" d="M524.1 86.1V137.2M522.6 90.4h3V132.8h-3z"/>
<path class="g" d="M526.2 110.4V134.7M524.7 115.5h3V132.8h-3z"/>
<path class="g" d="M528.4 107.9V150M526.9 113.5h3V115.5h-3z"/>
<path class="r" d="M530.5 105.8V120.4M529 113.5h3V117.4h-3z"/>
<path class="r" d="M532.7 111.9V139.3M531.2 117.4h3V136.7h-3z"/>
<path class="r" d="M534.8 131.1V151.3M533.3 136.7h3V144.4h-3z"/>
<path class="r" d="M537 140.2V148.2M535.5 144.4h3V145.4h-3z"/>
<path class="g" d="M539.1 99.9V157.8M537.6 104h3V145.3h-3z"/>
<path class="r" d="M541.3 98.3V125.9M539.8 104h3V121h-3z"/>
<path class="g" d="M543.4 99V139.5M541.9 104h3V121h-3z"/>
<path class="g" d="M545.6 90.1V106.9M544.1 92.4h3V104h-3z"/>
<path class="g" d="M547.8 63.5V95.6M546.2 77h3V92.4h-3z"/>
<path class="r" d="M549.9 65.4V149.8M548.4 77h3V148.2h-3z"/>
<path class="r" d="M552.1 146.4V221.8M550.6 148.2h3V163.6h-3z"/>
<path class="g" d="M554.2 152.6V168.4M552.7 157.8h3V163.6h-3z"/>
<path class="g" d="M556.4 123.8V160.9M554.9 129h3V157.8h-3z"/>
<path class="g" d="M558.5 106.8V133.1M557 123h3V129h-3z"/>
<path class="r" d="M560.7 118.9V152.2M559.2 123h3V150h-3z"/>
<path class="r" d="M562.8 143.6V188.6M561.3 150h3V186h-3z"/>
<path class="r" d="M565 179.1V250.6M563.5 186h3V244h-3z"/>
<path class="r" d="M567.1 214V263M565.6 244h3V256.5h-3z"/>
<path class="g" d="M569.3 228.4V296M567.8 234.4h3V256.5h-3z"/>
<path class="g" d="M571.4 161V237.4M569.9 165h3V234.4h-3z"/>
<path class="g" d="M573.6 158V171.7M572.1 160.7h3V165h-3z"/>
<path class="g" d="M575.7 108.7V165.4M574.2 113.5h3V160.7h-3z"/>
<path class="r" d="M577.9 111.2V164.2M576.4 113.5h3V159.8h-3z"/>
<path class="r" d="M580 153.1V204.5M578.5 159.8h3V173h-3z"/>
<path class="r" d="M582.2 165V217.3M580.7 173h3V213h-3z"/>
<path class="r" d="M584.4 206.6V257.5M582.9 213h3V253.6h-3z"/>
<path class="g" d="M586.5 160V260M585 183.3h3V253.6h-3z"/>
<path class="r" d="M588.7 159.8V191.6M587.2 183.3h3V190h-3z"/>
<path class="r" d="M590.8 188.5V230.5M589.3 190h3V217h-3z"/>
<path class="g" d="M593 182V224.7M591.5 186h3V217h-3z"/>
<path class="g" d="M595.1 178.7V205.5M593.6 181h3V186h-3z"/>
<path class="g" d="M597.3 156.6V187.1M595.8 159.8h3V181h-3z"/>
<path class="g" d="M599.4 144.8V165.4M597.9 146.3h3V159.8h-3z"/>
<path class="g" d="M601.6 116.9V148.5M600.1 123h3V146.3h-3z"/>
<path class="g" d="M603.7 108.3V128.4M602.2 114.9h3V123h-3z"/>
<path class="g" d="M605.9 102V118M604.4 106.8h3V114.9h-3z"/>
<path class="r" d="M608 96.2V123M606.5 106.8h3V119.3h-3z"/>
<path class="g" d="M610.2 102V124M608.7 118h3V119.3h-3z"/>
<path class="g" d="M612.3 110V126M610.8 113.5h3V118h-3z"/>
<path class="g" d="M614.5 94.3V115.4M613 112.6h3V113.6h-3z"/>
<path class="r" d="M616.6 110.5V138.9M615.1 112.6h3V132.8h-3z"/>
<path class="r" d="M618.8 129.7V154M617.3 132.8h3V146.3h-3z"/>
<path class="r" d="M621 124V151.2M619.5 146.3h3V148.2h-3z"/>
<path class="r" d="M623.1 143.9V168M621.6 148.2h3V165.5h-3z"/>
<path class="r" d="M625.3 161.9V177.5M623.8 165.5h3V171.3h-3z"/>
<path class="g" d="M627.4 157.2V181M625.9 163.6h3V171.3h-3z"/>
<path class="g" d="M629.6 143.2V170.1M628.1 148.2h3V163.6h-3z"/>
<path class="g" d="M631.7 140.5V152.7M630.2 147.2h3V148.2h-3z"/>
<path class="r" d="M633.9 141.7V186.6M632.4 147.2h3V184.8h-3z"/>
<path class="r" d="M636 179.3V213.3M634.5 184.8h3V209.3h-3z"/>
<path class="r" d="M638.2 203.7V226M636.7 209.3h3V221h-3z"/>
<path class="r" d="M640.3 217.9V241.8M638.8 221h3V240h-3z"/>
<path class="r" d="M642.5 233.4V268M641 240h3V254.6h-3z"/>
<path class="g" d="M644.6 220.6V262.3M643.1 224.7h3V254.6h-3z"/>
<path class="g" d="M646.8 198.5V230.3M645.3 201.6h3V224.7h-3z"/>
<path class="r" d="M648.9 181.4V206.4M647.4 201.6h3V203.5h-3z"/>
<path class="g" d="M651.1 175.9V215M649.6 181h3V203.5h-3z"/>
<path class="r" d="M653.2 167.5V186.7M651.7 181h3V183h-3z"/>
<path class="g" d="M655.4 179.6V206M653.9 182h3V183h-3z"/>
<path class="g" d="M657.6 149.4V188.5M656.1 152h3V182h-3z"/>
<path class="g" d="M659.7 138.2V187M658.2 142.4h3V152h-3z"/>
<path class="g" d="M661.9 128V149.4M660.4 132.8h3V142.4h-3z"/>
<path class="r" d="M664 128.8V142.8M662.5 132.8h3V140.5h-3z"/>
<path class="r" d="M666.2 137.9V158M664.7 140.5h3V156h-3z"/>
<path class="r" d="M668.3 152.6V163.7M666.8 156h3V161.7h-3z"/>
<path class="r" d="M670.5 158.9V174.2M669 161.7h3V169.4h-3z"/>
<path class="g" d="M672.6 132.1V188.6M671.1 136.7h3V169.4h-3z"/>
<path class="g" d="M674.8 126V140.5M673.3 135.7h3V136.7h-3z"/>
<path class="r" d="M676.9 131.9V156.4M675.4 135.7h3V152h-3z"/>
<path class="r" d="M679.1 148.4V167M677.6 152h3V163.6h-3z"/>
<path class="r" d="M681.2 161.8V190M679.7 163.6h3V188.6h-3z"/>
<path class="g" d="M683.4 176.2V190.8M681.9 183h3V188.6h-3z"/>
<path class="g" d="M685.5 155V188M684 161.7h3V183h-3z"/>
<path class="r" d="M687.7 155.5V168.2M686.2 161.7h3V165.5h-3z"/>
<path class="g" d="M689.8 159.7V168.4M688.3 162.7h3V165.5h-3z"/>
<path class="g" d="M692 146.3V166.6M690.5 159.8h3V162.7h-3z"/>
<path class="r" d="M694.2 153.1V171.3M692.7 159.8h3V165.5h-3z"/>
<path class="g" d="M696.3 143.7V167.1M694.8 150h3V165.5h-3z"/>
<path class="r" d="M698.5 144.4V158.4M697 150h3V153h-3z"/>
<path class="g" d="M700.6 134.1V157.1M699.1 140.5h3V153h-3z"/>
<path class="g" d="M702.8 130V142M701.3 132.8h3V140.5h-3z"/>
<path class="r" d="M704.9 129.1V163.5M703.4 132.8h3V156.9h-3z"/>
<path class="r" d="M707.1 150.9V164.6M705.6 156.9h3V161.7h-3z"/>
<path class="g" d="M709.2 139.5V164.6M707.7 146.3h3V161.7h-3z"/>
<path class="g" d="M711.4 130V148.6M709.9 137.6h3V146.3h-3z"/>
<path class="r" d="M713.5 131.8V147.7M712 137.6h3V142.4h-3z"/>
<path class="r" d="M715.7 135.7V159.5M714.2 142.4h3V154h-3z"/>
<path class="r" d="M717.8 148.9V163.5M716.3 154h3V157.8h-3z"/>
<path class="r" d="M720 153.8V173.9M718.5 157.8h3V169.4h-3z"/>
<path class="r" d="M722.1 167.7V176M720.6 169.4h3V171.3h-3z"/>
<path class="r" d="M724.3 168.5V179.6M722.8 171.3h3V173h-3z"/>
<path class="r" d="M726.4 167.9V186.7M724.9 173h3V184.8h-3z"/>
<path class="g" d="M728.6 172.8V195.4M727.1 175h3V184.8h-3z"/>
<path class="g" d="M730.8 151V180.3M729.3 156h3V175h-3z"/>
<path class="g" d="M732.9 147.9V157.9M731.4 150h3V156h-3z"/>
<path class="r" d="M735.1 143.4V160.7M733.6 150h3V156h-3z"/>
<path class="r" d="M737.2 152.4V164.4M735.7 156h3V161.7h-3z"/>
<path class="g" d="M739.4 131.8V163.3M737.9 143.4h3V161.7h-3z"/>
<path class="r" d="M741.5 140.2V178M740 143.4h3V174h-3z"/>
<path class="g" d="M743.7 163.2V181M742.2 170h3V174h-3z"/>
<path class="g" d="M745.8 158.8V174.5M744.3 169.4h3V170.4h-3z"/>
<path class="r" d="M748 166.6V212.9M746.5 169.4h3V210h-3z"/>
<path class="r" d="M750.1 203.2V252.1M748.6 210h3V246.7h-3z"/>
<path class="r" d="M752.3 243.5V261.6M750.8 246.7h3V260h-3z"/>
<path class="r" d="M754.4 255.8V278.8M752.9 260h3V273.6h-3z"/>
<path class="r" d="M756.6 240V289.9M755.1 273.6h3V287h-3z"/>
<path class="r" d="M758.7 258V309.3M757.2 287h3V302.7h-3z"/>
<path class="r" d="M760.9 260V326M759.4 302.7h3V320h-3z"/>
<path class="r" d="M763 302.5V335.4M761.5 320h3V331.6h-3z"/>
<path class="r" d="M765.2 326.3V345.6M763.7 331.6h3V343h-3z"/>
<path class="g" d="M767.4 307.5V349M765.9 335.5h3V343h-3z"/>
<path class="g" d="M769.5 310V338.1M768 314.3h3V335.5h-3z"/>
<path class="g" d="M771.7 304.6V317.5M770.2 310.4h3V314.3h-3z"/>
<path class="r" d="M773.8 304.4V367M772.3 310.4h3V362.4h-3z"/>
<path class="g" d="M776 322.3V369M774.5 325h3V362.4h-3z"/>
<path class="r" d="M778.1 318V338.3M776.6 325h3V331.6h-3z"/>
<path class="r" d="M780.3 317V349.5M778.8 331.6h3V347h-3z"/>
<path class="r" d="M782.4 344.3V367.2M780.9 347h3V363.4h-3z"/>
<path class="g" d="M784.6 318.8V370.1M783.1 324h3V363.4h-3z"/>
<path class="g" d="M786.7 312.7V327.7M785.2 315h3V324h-3z"/>
<path class="g" d="M788.9 276.5V321.9M787.4 293h3V315h-3z"/>
<path class="r" d="M791 290.7V307.4M789.5 293h3V305.6h-3z"/>
<path class="r" d="M793.2 286.4V311.2M791.7 305.6h3V307.5h-3z"/>
<path class="g" d="M795.3 279V313.9M793.8 285.4h3V307.5h-3z"/>
<path class="g" d="M797.5 256.3V292.4M796 270h3V285.4h-3z"/>
<path class="g" d="M799.7 244.7V273.3M798.2 267.8h3V270h-3z"/>
<path class="r" d="M801.8 265.3V295.6M800.3 267.8h3V289h-3z"/>
<path class="r" d="M804 283.4V300.7M802.5 289h3V299h-3z"/>
<path class="r" d="M806.1 294V303.6M804.6 299h3V300h-3z"/>
<path class="r" d="M808.3 287.3V329.1M806.8 300h3V325.8h-3z"/>
<path class="r" d="M810.4 323.4V335M808.9 325.8h3V333.5h-3z"/>
<path class="r" d="M812.6 325.8V348.4M811.1 333.5h3V345h-3z"/>
<path class="r" d="M814.7 338.2V358.8M813.2 345h3V356.6h-3z"/>
<path class="r" d="M816.9 349.8V373M815.4 356.6h3V362.4h-3z"/>
<path class="r" d="M819 358.9V372M817.5 362.4h3V366h-3z"/>
<path class="g" d="M821.2 343V371M819.7 349h3V366h-3z"/>
<path class="r" d="M823.3 347.2V354.1M821.8 349h3V350h-3z"/>
<path class="r" d="M825.5 337.4V388.3M824 349h3V381.7h-3z"/>
<path class="r" d="M827.6 379.1V396.7M826.1 381.7h3V393.2h-3z"/>
<path class="g" d="M829.8 375.3V394.9M828.3 381.7h3V393.2h-3z"/>
<path class="g" d="M831.9 349V387.7M830.4 354.7h3V381.7h-3z"/>
<path class="g" d="M834.1 336.5V356.4M832.6 342.2h3V354.7h-3z"/>
<path class="r" d="M836.3 340.5V356.5M834.8 342.2h3V354.7h-3z"/>
<path class="r" d="M838.4 348.1V361.5M836.9 354.7h3V358.6h-3z"/>
<path class="r" d="M840.6 331.6V369.8M839.1 358.6h3V363.4h-3z"/>
<path class="g" d="M842.7 335.9V366.4M841.2 339.3h3V363.4h-3z"/>
<path class="g" d="M844.9 330.7V344.2M843.4 337.4h3V339.3h-3z"/>
<path class="g" d="M847 307.5V342.8M845.5 310.4h3V337.4h-3z"/>
<path class="g" d="M849.2 305.3V313.4M847.7 308.5h3V310.4h-3z"/>
<path class="g" d="M851.3 286.4V314.2M849.8 295h3V308.5h-3z"/>
<path class="r" d="M853.5 288.5V309.7M852 295h3V304.7h-3z"/>
<path class="r" d="M855.6 298V314M854.1 304.7h3V312.4h-3z"/>
<path class="g" d="M857.8 301.9V320M856.3 304.7h3V312.4h-3z"/>
<path class="g" d="M859.9 292.2V311.4M858.4 299h3V304.7h-3z"/>
<path class="r" d="M862.1 293V305.6M860.6 299h3V302.7h-3z"/>
<path class="r" d="M864.2 298.8V323.2M862.7 302.7h3V319h-3z"/>
<path class="g" d="M866.4 297.1V321.5M864.9 303.7h3V319h-3z"/>
<path class="g" d="M868.5 294.9V309.3M867 300.8h3V303.7h-3z"/>
<path class="g" d="M870.7 289V306.6M869.2 295h3V300.8h-3z"/>
<path class="r" d="M872.9 290.2V299.3M871.4 295h3V296h-3z"/>
<path class="r" d="M875 292.7V302.5M873.5 296h3V299h-3z"/>
<path class="r" d="M877.2 279.6V301.9M875.7 299h3V300h-3z"/>
<path class="g" d="M879.3 291.4V305.6M877.8 294h3V300h-3z"/>
<path class="r" d="M881.5 284.4V296.9M880 294h3V295h-3z"/>
<path class="r" d="M883.6 293.3V305.3M882.1 295h3V300.8h-3z"/>
<path class="r" d="M885.8 297.5V313.5M884.3 300.8h3V306.6h-3z"/>
<path class="r" d="M887.9 300.2V315M886.4 306.6h3V311.4h-3z"/>
<path class="g" d="M890.1 302.6V313.4M888.6 305.6h3V311.4h-3z"/>
<path class="g" d="M892.2 300.7V316M890.7 302.7h3V305.6h-3z"/>
<path class="g" d="M894.4 293.6V306.7M892.9 299h3V302.7h-3z"/>
<path class="g" d="M896.5 294V302.8M895 298h3V299h-3z"/>
<path class="r" d="M898.7 293.1V350.2M897.2 298h3V345h-3z"/>
<path class="r" d="M900.8 339.4V366.7M899.3 345h3V360.5h-3z"/>
<path class="r" d="M903 356.7V383.9M901.5 360.5h3V381.7h-3z"/>
<path class="r" d="M905.1 375.6V398M903.6 381.7h3V395h-3z"/>
<path class="g" d="M907.3 363.4V398.6M905.8 383.6h3V395h-3z"/>
<path class="r" d="M909.5 368V387.2M908 383.6h3V384.6h-3z"/>
<path class="g" d="M911.6 374.1V386.4M910.1 377h3V383.6h-3z"/>
<path class="r" d="M913.8 361.5V384.4M912.3 377h3V378h-3z"/>
<path class="r" d="M915.9 373.3V411.5M914.4 378h3V399h-3z"/>
<path class="g" d="M918.1 394.3V404.8M916.6 398h3V399h-3z"/>
<path class="g" d="M920.2 377V400.8M918.7 380h3V398h-3z"/>
<path class="r" d="M922.4 374.1V421.1M920.9 380h3V416h-3z"/>
<path class="r" d="M924.5 409V442.5M923 416h3V440.4h-3z"/>
<path class="r" d="M926.7 436.3V460M925.2 440.4h3V454h-3z"/>
<path class="r" d="M928.8 447.9V473.9M927.3 454h3V467.4h-3z"/>
<path class="r" d="M931 465.7V472.4M929.5 467.4h3V469.3h-3z"/>
<path class="r" d="M933.1 467.1V476.5M931.6 469.3h3V474h-3z"/>
<path class="g" d="M935.3 450.9V481M933.8 457.8h3V474h-3z"/>
<path class="g" d="M937.4 445V461.3M935.9 455.8h3V457.8h-3z"/>
<path class="r" d="M939.6 449.5V504M938.1 455.8h3V500h-3z"/>
<path class="r" d="M941.7 497.1V525.2M940.2 500h3V519.4h-3z"/>
<path class="g" d="M943.9 508.8V536.7M942.4 515.5h3V519.4h-3z"/>
<path class="g" d="M946.1 503V533M944.6 507.8h3V515.5h-3z"/>
<path class="r" d="M948.2 505.1V519M946.7 507.8h3V515.5h-3z"/>
<path class="r" d="M950.4 498V523.9M948.9 515.5h3V521.3h-3z"/>
<path class="r" d="M952.5 518.4V530.8M951 521.3h3V526h-3z"/>
<path class="r" d="M954.7 520.9V545.4M953.2 526h3V538.6h-3z"/>
<path class="g" d="M956.8 507.8V541.9M955.3 517.5h3V538.6h-3z"/>
<path class="r" d="M959 494.4V525.5M957.5 517.5h3V523h-3z"/>
<path class="r" d="M961.1 519.8V549.2M959.6 523h3V536.7h-3z"/>
<path class="g" d="M963.3 519.1V541.2M961.8 525h3V536.7h-3z"/>
<path class="g" d="M965.4 513.7V546.4M963.9 515.5h3V525h-3z"/>
<path class="g" d="M967.6 506.1V520M966.1 509.8h3V515.5h-3z"/>
<path class="g" d="M969.7 476V511.8M968.2 496.3h3V509.8h-3z"/>
<path class="g" d="M971.9 480.4V501.6M970.4 482.8h3V496.3h-3z"/>
<path class="g" d="M974 464.5V485.9M972.5 480h3V482.8h-3z"/>
<path class="r" d="M976.2 476.8V516.5M974.7 480h3V509.8h-3z"/>
<path class="r" d="M978.4 506.6V539.4M976.9 509.8h3V534.8h-3z"/>
<path class="r" d="M980.5 531.3V543.4M979 534.8h3V539.6h-3z"/>
<path class="g" d="M982.7 510V546.6M981.2 519.6h3V539.6h-3z"/>
<path class="g" d="M984.8 507V522.2M983.3 515.5h3V519.6h-3z"/>
<path class="r" d="M987 513.6V539.3M985.5 515.5h3V536.7h-3z"/>
<path class="r" d="M989.1 535.2V560.5M987.6 536.7h3V554h-3z"/>
<path class="r" d="M991.3 550.2V575.7M989.8 554h3V569.7h-3z"/>
<path class="r" d="M993.4 566V578M991.9 569.7h3V571.6h-3z"/>
<path class="r" d="M995.6 567.6V575.9M994.1 571.6h3V573.5h-3z"/>
<path class="r" d="M997.7 571.9V591M996.2 573.5h3V586h-3z"/>
<path class="g" d="M999.9 560.8V592.5M998.4 565.8h3V586h-3z"/>
<path class="r" d="M1002 563V593.8M1000.5 565.8h3V573.5h-3z"/>
<path class="r" d="M1004.2 570V589.3M1002.7 573.5h3V585h-3z"/>
<path class="r" d="M1006.3 582.7V605.5M1004.8 585h3V602.4h-3z"/>
<path class="r" d="M1008.5 598V642.6M1007 602.4h3V636h-3z"/>
<path class="g" d="M1010.6 630.9V640.2M1009.1 633h3V636h-3z"/>
<path class="g" d="M1012.8 584V639.8M1011.3 598.6h3V633h-3z"/>
<path class="r" d="M1015 596V629.4M1013.5 598.6h3V619.8h-3z"/>
<path class="g" d="M1017.1 607.3V631.3M1015.6 614h3V619.8h-3z"/>
<path class="g" d="M1019.3 573.2V615.8M1017.8 577.4h3V614h-3z"/>
<path class="r" d="M1021.4 570.7V590.6M1019.9 577.4h3V587h-3z"/>
<path class="r" d="M1023.6 580.5V599.6M1022.1 587h3V594.7h-3z"/>
<path class="r" d="M1025.7 588.7V612.4M1024.2 594.7h3V610h-3z"/>
<path class="r" d="M1027.9 604.2V620.5M1026.4 610h3V617.8h-3z"/>
<path class="g" d="M1030 602.6V620.7M1028.5 606.3h3V617.8h-3z"/>
<path class="g" d="M1032.2 584.8V608.8M1030.7 590.9h3V606.3h-3z"/>
<path class="g" d="M1034.3 582.3V594.6M1032.8 585h3V590.9h-3z"/>
<path class="g" d="M1036.5 570.7V588.6M1035 576.4h3V585h-3z"/>
<path class="r" d="M1038.6 574.2V601.5M1037.1 576.4h3V598.6h-3z"/>
<path class="r" d="M1040.8 593.1V608M1039.3 598.6h3V599.6h-3z"/>
<path class="g" d="M1042.9 583.3V603.2M1041.4 585h3V598.6h-3z"/>
<path class="g" d="M1045.1 578.4V586.7M1043.6 584h3V585h-3z"/>
<path class="r" d="M1047.2 577.9V629.6M1045.7 584h3V627.5h-3z"/>
<path class="r" d="M1049.4 622.7V649.3M1047.9 627.5h3V644.8h-3z"/>
<path class="g" d="M1051.6 620.6V646.7M1050.1 625.5h3V644.8h-3z"/>
<path class="g" d="M1053.7 604.4V630.2M1052.2 614h3V625.5h-3z"/>
<path class="r" d="M1055.9 590V620.1M1054.4 614h3V615h-3z"/>
<path class="g" d="M1058 602.3V626.5M1056.5 606.3h3V615h-3z"/>
<path class="g" d="M1060.2 597.6V611.2M1058.7 602.4h3V606.3h-3z"/>
<path class="r" d="M1062.3 598.2V609.1M1060.8 602.4h3V606.3h-3z"/>
<path class="g" d="M1064.5 558.3V612.1M1063 564h3V606.3h-3z"/>
<path class="g" d="M1066.6 538.7V566.5M1065.1 542.7h3V564h-3z"/>
<path class="g" d="M1068.8 530.2V544.9M1067.3 541.8h3V542.8h-3z"/>
<path class="r" d="M1070.9 539.6V560.1M1069.4 541.8h3V556.2h-3z"/>
<path class="g" d="M1073.1 529V560.1M1071.6 531h3V556.2h-3z"/>
<path class="r" d="M1075.2 526.7V552.1M1073.7 531h3V550.4h-3z"/>
<path class="g" d="M1077.4 519.4V552.4M1075.9 524.4h3V550.4h-3z"/>
<path class="g" d="M1079.5 510V530.3M1078 523.5h3V524.5h-3z"/>
<path class="r" d="M1081.7 519.2V546.5M1080.2 523.5h3V544.7h-3z"/>
<path class="r" d="M1083.8 540.4V579.1M1082.3 544.7h3V575.5h-3z"/>
<path class="r" d="M1086 568.7V591.2M1084.5 575.5h3V589h-3z"/>
<path class="r" d="M1088.2 582.8V602.7M1086.7 589h3V595.7h-3z"/>
<path class="r" d="M1090.3 590.2V602.4M1088.8 595.7h3V600.5h-3z"/>
<path class="g" d="M1092.5 570.9V602.4M1091 573.5h3V600.5h-3z"/>
<path class="g" d="M1094.6 554.3V580.3M1093.1 571.6h3V573.5h-3z"/>
<path class="g" d="M1096.8 563.2V583.2M1095.3 569.7h3V571.6h-3z"/>
<path class="g" d="M1098.9 534V576.3M1097.4 556.2h3V569.7h-3z"/>
<path class="g" d="M1101.1 553.3V578.4M1099.6 555.2h3V556.2h-3z"/>
<path class="g" d="M1103.2 540.9V557.6M1101.7 546.6h3V555.2h-3z"/>
<path class="g" d="M1105.4 530.2V549.6M1103.9 540.8h3V546.6h-3z"/>
<path class="r" d="M1107.5 534.8V564.3M1106 540.8h3V562h-3z"/>
<path class="g" d="M1109.7 534.6V568.6M1108.2 538.9h3V562h-3z"/>
<path class="g" d="M1111.8 533.8V541.8M1110.3 536.5h3V538.9h-3z"/>
<path class="g" d="M1114 529.7V539.7M1112.5 534h3V536.5h-3z"/>
<path class="r" d="M1116.1 518.7V537.5M1114.6 534h3V535h-3z"/>
<path class="r" d="M1118.3 521.6V547.5M1116.8 534h3V540.8h-3z"/>
<path class="r" d="M1120.4 528.3V553M1118.9 540.8h3V546.6h-3z"/>
<path class="r" d="M1122.6 523.5V553.4M1121.1 546.6h3V547.6h-3z"/>
<path class="r" d="M1124.8 545.4V561M1123.3 547.5h3V558h-3z"/>
<path class="g" d="M1126.9 528V561.5M1125.4 533h3V558h-3z"/>
<path class="g" d="M1129.1 527.3V537.6M1127.6 531.2h3V533h-3z"/>
<path class="r" d="M1131.2 526.5V548.2M1129.7 531.2h3V541.8h-3z"/>
<path class="r" d="M1133.4 539.7V553.3M1131.9 541.8h3V542.8h-3z"/>
<path class="g" d="M1135.5 522.5V546.5M1134 541.8h3V542.8h-3z"/>
<path class="g" d="M1137.7 524.3V544.8M1136.2 530.2h3V541.8h-3z"/>
<path class="g" d="M1139.8 526.4V535M1138.3 529.3h3V530.3h-3z"/>
<path class="r" d="M1142 515.8V554.2M1140.5 529.3h3V548.5h-3z"/>
<path class="r" d="M1144.1 544.6V580.9M1142.6 548.5h3V578.4h-3z"/>
<path class="r" d="M1146.3 572.8V581.2M1144.8 578.4h3V579.4h-3z"/>
<path class="g" d="M1148.4 554.3V581.3M1146.9 561h3V578.4h-3z"/>
<path class="r" d="M1150.6 551.4V590.1M1149.1 561h3V583.2h-3z"/>
<path class="r" d="M1152.7 578.5V591.2M1151.2 583.2h3V586h-3z"/>
<path class="r" d="M1154.9 580.3V602M1153.4 586h3V600.5h-3z"/>
<path class="g" d="M1157 581.5V602.8M1155.5 583.2h3V600.5h-3z"/>
<path class="g" d="M1159.2 557.1V587.1M1157.7 562h3V583.2h-3z"/>
<path class="g" d="M1161.4 546.1V568.4M1159.9 550.4h3V562h-3z"/>
<path class="g" d="M1163.5 542.7V553.1M1162 546.6h3V550.4h-3z"/>
<path class="g" d="M1165.7 532.9V548.2M1164.2 538h3V546.6h-3z"/>
<path class="g" d="M1167.8 527.8V541.4M1166.3 529.3h3V538h-3z"/>
<path class="r" d="M1170 527.2V535.5M1168.5 529.3h3V532h-3z"/>
<path class="r" d="M1172.1 522.5V538.9M1170.6 532h3V533h-3z"/>
<path class="r" d="M1174.3 522.5V536.6M1172.8 533h3V534h-3z"/>
<path class="r" d="M1176.4 528.1V550.7M1174.9 533h3V546.6h-3z"/>
<path class="r" d="M1178.6 544.4V555.3M1177.1 546.6h3V550.4h-3z"/>
<path class="g" d="M1180.7 524.4V552.7M1179.2 527.3h3V550.4h-3z"/>
<path class="r" d="M1182.9 520.6V541.3M1181.4 527.3h3V536.3h-3z"/>
<path class="r" d="M1185 530V545.8M1183.5 536.3h3V540h-3z"/>
<path class="r" d="M1187.2 536.3V555M1185.7 540h3V552h-3z"/>
<path class="r" d="M1189.3 540V561.2M1187.8 552h3V556.2h-3z"/>
<path class="g" d="M1191.5 550.9V559.9M1190 555.5h3V556.5h-3z"/>
<path class="r" d="M1193.7 550.4V567.4M1192.2 555.5h3V563.5h-3z"/>
<path class="r" d="M1195.8 556.8V572.6M1194.3 563.5h3V569.7h-3z"/>
<path class="r" d="M1198 566.8V577.7M1196.5 569.7h3V570.7h-3z"/>
<path class="g" d="M1200.1 558V574.9M1198.6 561h3V570.5h-3z"/>
<path class="r" d="M1202.3 552.6V565.8M1200.8 561h3V563h-3z"/>
<path class="g" d="M1204.4 547.2V572M1202.9 549h3V563h-3z"/>
<path class="g" d="M1206.6 538.9V553.5M1205.1 540.5h3V549h-3z"/>
<path class="g" d="M1208.7 536V542.8M1207.2 538h3V540.5h-3z"/>
<path class="r" d="M1210.9 535.4V549.8M1209.4 538h3V545h-3z"/>
<path class="g" d="M1213 525V550M1211.5 532h3V545h-3z"/>
<path class="r" d="M1215.2 526V545M1213.7 532h3V542.5h-3z"/>
<path class="g" d="M1217.3 506.8V545.7M1215.8 510h3V542.5h-3z"/>
<path class="g" d="M1219.5 486.2V516.4M1218 488h3V510h-3z"/>
<path class="g" d="M1221.6 477.5V493.4M1220.1 487h3V488h-3z"/>
<path class="r" d="M1223.8 480.4V503.9M1222.3 487h3V497.8h-3z"/>
<path class="r" d="M1225.9 492.2V507.4M1224.4 497.8h3V501.6h-3z"/>
<path class="g" d="M1228.1 491.2V511.2M1226.6 496.8h3V501.6h-3z"/>
<path class="g" d="M1230.3 489.3V503.5M1228.8 492h3V496.8h-3z"/>
<path class="g" d="M1232.4 483.4V493.7M1230.9 486.2h3V492h-3z"/>
<path class="g" d="M1234.6 469V491.8M1233.1 478.5h3V486.2h-3z"/>
<path class="r" d="M1236.7 473.2V498.1M1235.2 478.5h3V492h-3z"/>
<path class="r" d="M1238.9 472.7V497M1237.4 492h3V494h-3z"/>
<path class="r" d="M1241 489.5V513.2M1239.5 494h3V509.3h-3z"/>
<path class="r" d="M1243.2 503.5V522.8M1241.7 509.3h3V517h-3z"/>
<path class="g" d="M1245.3 498.6V522M1243.8 501.6h3V517h-3z"/>
<path class="r" d="M1247.5 494.8V517.7M1246 501.6h3V515h-3z"/>
<path class="r" d="M1249.6 508.7V536M1248.1 515h3V534.4h-3z"/>
<path class="r" d="M1251.8 531.5V538.2M1250.3 534.4h3V535.4h-3z"/>
<path class="g" d="M1253.9 527.6V541.1M1252.4 533.4h3V534.4h-3z"/>
<path class="r" d="M1256.1 527.8V549.3M1254.6 533.4h3V546h-3z"/>
<path class="r" d="M1258.2 539.7V549.8M1256.7 546h3V547h-3z"/>
<path class="g" d="M1260.4 537.2V553.5M1258.9 540h3V547h-3z"/>
<path class="r" d="M1262.5 535V558.9M1261 540h3V553.6h-3z"/>
<path class="g" d="M1264.7 523.4V560.5M1263.2 528.6h3V553.6h-3z"/>
<path class="g" d="M1266.9 520.6V534.7M1265.4 524.7h3V528.6h-3z"/>
<path class="g" d="M1269 507.7V530.9M1267.5 513h3V524.7h-3z"/>
<path class="g" d="M1271.2 499.6V518.5M1269.7 503.5h3V513h-3z"/>
<path class="g" d="M1273.3 493.2V506.7M1271.8 497.8h3V503.5h-3z"/>
<path class="g" d="M1275.5 477.7V502.7M1274 480.4h3V497.8h-3z"/>
<path class="g" d="M1277.6 467V486.9M1276.1 471.8h3V480.4h-3z"/>
<path class="r" d="M1279.8 469.5V498.4M1278.3 471.8h3V496.8h-3z"/>
<path class="r" d="M1281.9 494.7V518.8M1280.4 496.8h3V512.2h-3z"/>
<path class="g" d="M1284.1 488V514.5M1282.6 497.8h3V512.2h-3z"/>
<path class="r" d="M1286.2 496.1V517M1284.7 497.8h3V511.2h-3z"/>
<path class="r" d="M1288.4 505.9V525M1286.9 511.2h3V520h-3z"/>
<path class="r" d="M1290.5 514.7V526.6M1289 520h3V521h-3z"/>
<path class="r" d="M1292.7 496.8V529.4M1291.2 520.9h3V524.7h-3z"/>
<path class="r" d="M1294.8 521.2V533.6M1293.3 524.7h3V527.6h-3z"/>
<path class="r" d="M1297 521.6V536.9M1295.5 527.6h3V530.5h-3z"/>
<path class="r" d="M1299.1 528.6V534.4M1297.6 530.5h3V531.5h-3z"/>
<path class="g" d="M1301.3 512.2V538.2M1299.8 519h3V531.5h-3z"/>
<path class="r" d="M1303.5 512.2V533.1M1302 519h3V530.5h-3z"/>
<path class="r" d="M1305.6 528.4V545.7M1304.1 530.5h3V544h-3z"/>
<path class="r" d="M1307.8 537.8V557M1306.3 544h3V549.8h-3z"/>
<path class="r" d="M1309.9 544.8V557.5M1308.4 549.8h3V551.7h-3z"/>
<path class="g" d="M1312.1 542.8V566.6M1310.6 547.8h3V551.7h-3z"/>
<path class="r" d="M1314.2 545.8V556.6M1312.7 547.8h3V554.6h-3z"/>
<path class="g" d="M1316.4 540.3V557.2M1314.9 546h3V554.6h-3z"/>
<path class="g" d="M1318.5 530.5V549.8M1317 542h3V546h-3z"/>
<path class="r" d="M1320.7 540.4V566.2M1319.2 542h3V563.3h-3z"/>
<path class="r" d="M1322.8 560.2V569.7M1321.3 563.3h3V564.3h-3z"/>
<path class="r" d="M1325 560.7V575.5M1323.5 564.2h3V568.5h-3z"/>
<path class="g" d="M1327.1 557.2V579M1325.6 564h3V568.5h-3z"/>
<path class="r" d="M1329.3 557.3V570.9M1327.8 564h3V566h-3z"/>
<path class="r" d="M1331.4 564.3V578.3M1329.9 566h3V568h-3z"/>
<path class="r" d="M1333.6 559.5V574.8M1332.1 568h3V569h-3z"/>
<path class="r" d="M1335.7 565.1V574.4M1334.2 568.5h3V569.5h-3z"/>
<path class="r" d="M1337.9 561V585M1336.4 569.3h3V582.3h-3z"/>
<path class="g" d="M1340.1 573.3V594M1338.6 579.5h3V582.3h-3z"/>
<path class="g" d="M1342.2 571.3V582.4M1340.7 579h3V580h-3z"/>
<path class="r" d="M1344.4 573.6V597.3M1342.9 579h3V594.7h-3z"/>
<path class="r" d="M1346.5 589V616.5M1345 594.7h3V609.6h-3z"/>
<path class="g" d="M1348.7 599.5V613.8M1347.2 601h3V609.6h-3z"/>
<path class="g" d="M1350.8 581.5V606.9M1349.3 583.8h3V601h-3z"/>
<path class="r" d="M1353 580V593M1351.5 583.8h3V588.5h-3z"/>
<path class="r" d="M1355.1 585.1V622.7M1353.6 588.5h3V616.6h-3z"/>
<path class="r" d="M1357.3 613.7V624.3M1355.8 616.6h3V617.6h-3z"/>
<path class="g" d="M1359.4 601V619.3M1357.9 607.3h3V616.6h-3z"/>
<path class="r" d="M1361.6 602V619M1360.1 607.3h3V612h-3z"/>
<path class="g" d="M1363.7 588.5V617M1362.2 596.3h3V612h-3z"/>
<path class="g" d="M1365.9 591.1V602.1M1364.4 593h3V596.3h-3z"/>
<path class="g" d="M1368 576.8V600M1366.5 579h3V593h-3z"/>
<path class="r" d="M1370.2 574V596.5M1368.7 579h3V593h-3z"/>
<path class="g" d="M1372.3 575.3V596.7M1370.8 579h3V593h-3z"/>
<path class="r" d="M1374.5 569V596.7M1373 579h3V594.7h-3z"/>
<path class="r" d="M1376.7 588.3V608.8M1375.2 594.7h3V598.6h-3z"/>
<path class="r" d="M1378.8 596V621.9M1377.3 598.6h3V619h-3z"/>
<path class="r" d="M1381 612.5V624.3M1379.5 619h3V620h-3z"/>
<path class="g" d="M1383.1 603.7V657.3M1381.6 607.3h3V619.8h-3z"/>
<path class="g" d="M1385.3 591.9V611.3M1383.8 594.7h3V607.3h-3z"/>
<path class="r" d="M1387.4 591.6V606.6M1385.9 594.7h3V601h-3z"/>
<path class="g" d="M1389.6 593V612.7M1388.1 598.6h3V601h-3z"/>
<path class="g" d="M1391.7 583V601.9M1390.2 590h3V598.6h-3z"/>
<path d="M1312 620.3H1439" stroke="#1414d2" stroke-width="2.1" fill="none"/>
<path d="M8.4 593.5C10.4 592.2 15.6 588.8 20.2 586C24.8 583.2 29.2 580.4 36.2 576.7C43.2 573 55.1 567.5 62.3 563.7C69.5 559.9 72.8 557.9 79.2 554C85.7 550.1 94.5 543.8 101 540.4C107.5 537 112.4 536.1 118 533.7C123.6 531.3 129.5 528.1 134.8 526C140.1 523.9 145.2 522.8 150 521C154.8 519.2 159.2 517.6 163.4 515.2C167.6 512.8 171.8 509.2 175.2 506.7C178.6 504.2 180.8 502.1 183.7 500C186.6 497.9 189.5 496.3 192.6 494C195.7 491.7 198.8 488.7 202 486C205.2 483.3 209 480 212 478C215 476 217.5 474.9 220 474C222.5 473.1 224.7 472.8 227 472.8C229.3 472.8 231.7 473.3 234 473.8C236.3 474.3 237.9 475 240.7 476C243.5 477 247.4 478.7 251 480C254.6 481.3 257.8 482 262.5 483.8C267.2 485.6 273.9 489.4 279.3 491C284.7 492.6 289.8 493.2 294.7 493.5C299.6 493.8 304.2 493.4 309 492.8C313.8 492.2 318.8 491.3 323.5 490C328.2 488.7 331.5 487.4 337 485C342.5 482.6 349.9 478.8 356.3 475.6C362.7 472.4 369.1 469.2 375.5 466C381.9 462.8 388.4 459.6 394.8 456.4C401.2 453.2 408.9 448.8 414 446.7C419.1 444.6 421.2 445.4 425.5 444C429.8 442.6 435.2 440.1 440 438C444.8 435.9 449.4 434.2 454.4 431.5C459.4 428.8 464.6 425 470 421.5C475.4 418 480.9 414.1 486.6 410.4C492.3 406.6 498.1 402.9 504 399C509.9 395.1 516.5 390.9 521.8 387.2C527.1 383.5 531.2 380.4 536 377C540.8 373.6 545.9 369.8 550.7 367C555.5 364.2 560.2 362.6 565 360.5C569.8 358.4 573.9 356.7 579.6 354.5C585.3 352.3 592.7 349.8 599.2 347.3C605.7 344.8 612.7 341.6 618.5 339.6C624.3 337.6 629.7 336.1 633.9 335.3C638.1 334.5 640.3 335.5 643.5 334.7C646.7 333.9 650.2 332.2 653.1 330.5C656 328.8 657.9 327.3 660.8 324.2C663.7 321.1 667.3 315.6 670.5 311.6C673.7 307.6 676.8 303.9 680 300C683.2 296.1 686.5 292.5 689.7 288.5C692.9 284.5 696.1 280.2 699.3 276C702.5 271.8 705.8 267.3 709 263.5C712.2 259.7 715.4 256.1 718.6 253C721.8 249.9 724.7 247.9 728.2 245.2C731.7 242.5 736.3 239 739.8 236.6C743.3 234.2 745.9 232.6 749.4 230.8C752.9 229 757 227.1 760.9 226C764.8 224.9 769.3 224.4 772.5 224C775.7 223.6 776.9 223.9 780 223.8C783.1 223.7 785.9 223.9 791 223.5C796.1 223.1 804.9 221.9 810.5 221.6C816.1 221.3 821 221.4 824.6 221.6C828.2 221.8 829.5 222.3 832 222.6C834.5 222.9 836.9 223.3 839.4 223.2C841.9 223.1 844.4 222.4 847 221.8C849.6 221.2 850.9 220.4 854.8 219.7C858.7 219 865.7 217.9 870.2 217.4C874.7 216.9 878.5 216.8 881.8 216.8C885.1 216.8 887.4 217.1 890 217.4C892.6 217.7 894.7 218.1 897.2 218.7C899.7 219.3 902.4 220.2 905 221.2C907.6 222.2 910.1 223.4 912.6 224.5C915.1 225.6 917.4 226.7 920 228C922.6 229.3 924.1 229.7 928 232.2C931.9 234.7 937.9 238.5 943.4 242.8C948.9 247.1 956.4 254.2 960.7 258.2C965 262.2 965.8 263.8 969 267C972.2 270.2 976.5 274.3 980 277.5C983.5 280.7 987.1 283.5 990.3 286.4C993.5 289.3 995.7 291.5 999.2 294.8C1002.7 298.1 1006.5 301.8 1011.5 306.4C1016.5 311 1024.4 318 1028.9 322.7C1033.4 327.4 1035.3 330.8 1038.5 334.3C1041.7 337.8 1045.2 340.8 1048.1 343.9C1051 346.9 1052.6 349.3 1055.8 352.6C1059 355.9 1063.9 360.6 1067.4 363.5C1070.9 366.4 1073.8 367.4 1077 369.9C1080.2 372.3 1083.4 375.1 1086.6 378.2C1089.8 381.2 1092 384.1 1096.2 388.2C1100.4 392.3 1106.8 398.3 1111.6 402.6C1116.4 406.9 1120.5 410.2 1125 414.2C1129.5 418.2 1134.1 422.7 1138.6 426.7C1143.1 430.7 1147.8 434.5 1152 438.2C1156.2 441.9 1159.8 445.5 1163.6 448.8C1167.4 452.1 1171.2 455 1175 457.8C1178.8 460.6 1182.5 463 1186.5 465.6C1190.5 468.2 1194 470.2 1199.3 473.2C1204.6 476.2 1212.1 480.5 1218.5 483.8C1224.9 487.1 1231.4 490.2 1237.8 493C1244.2 495.8 1250.6 498.1 1257 500.7C1263.4 503.3 1269.9 505.7 1276.3 508.4C1282.7 511.1 1289.1 513.8 1295.5 517C1301.9 520.2 1308.4 524.1 1314.8 527.6C1321.2 531.1 1327.6 535 1334 538.2C1340.4 541.4 1346.9 544.5 1353.3 546.9C1359.7 549.3 1366.2 551.1 1372.6 552.6C1379 554.1 1388.6 555.4 1391.8 556" stroke="#b8971c" stroke-width="2.1" fill="none" stroke-linejoin="round" stroke-linecap="round"/>
</g>
<rect x="0" y="0" width="2.2" height="831" fill="#0a0a0a"/>
<path d="M8.5 24.5H1570.5V825.5H8.5zM1513.5 24.5V800.5M8.5 800.5H1513.5" stroke="#4d4d50" stroke-width="1" fill="none"/>
<path d="M1514 75.5h4M1514 143.5h4M1514 212.5h4M1514 280.5h4M1514 349.5h4M1514 417.5h4M1514 486.5h4M1514 554.5h4M1514 623.5h4M1514 691.5h4M1514 760.5h4M36.5 801v3M150.5 801v3M262.5 801v3M374.5 801v3M486.5 801v3M598.5 801v3M712.5 801v3M824.5 801v3M936.5 801v3M1048.5 801v3M1160.5 801v3M1272.5 801v3M1386.5 801v3M1498.5 801v3" stroke="#4d4d50" stroke-width="1" fill="none"/>
<g font-family="'Liberation Sans',Arial,sans-serif" font-size="11px" fill="#50535a">
<text x="1522" y="79.7" textLength="39.3" lengthAdjust="spacingAndGlyphs">1.10000</text>
<text x="1522" y="148.2" textLength="39.3" lengthAdjust="spacingAndGlyphs">1.05000</text>
<text x="1522" y="216.7" textLength="39.3" lengthAdjust="spacingAndGlyphs">1.00000</text>
<text x="1522" y="285.2" textLength="39.3" lengthAdjust="spacingAndGlyphs">0.95000</text>
<text x="1522" y="353.7" textLength="39.3" lengthAdjust="spacingAndGlyphs">0.90000</text>
<text x="1522" y="422.1" textLength="39.3" lengthAdjust="spacingAndGlyphs">0.85000</text>
<text x="1522" y="490.6" textLength="39.3" lengthAdjust="spacingAndGlyphs">0.80000</text>
<text x="1522" y="559.1" textLength="39.3" lengthAdjust="spacingAndGlyphs">0.75000</text>
<text x="1522" y="627.6" textLength="39.3" lengthAdjust="spacingAndGlyphs">0.70000</text>
<text x="1522" y="696.1" textLength="39.3" lengthAdjust="spacingAndGlyphs">0.65000</text>
<text x="1522" y="764.6" textLength="39.3" lengthAdjust="spacingAndGlyphs">0.60000</text>
</g>
<g font-family="'Liberation Sans',Arial,sans-serif" font-size="11px" font-weight="bold" fill="#50535a" text-anchor="middle">
<text x="36" y="817.8">2007</text>
<text x="150.2" y="817.8">2008</text>
<text x="262.1" y="817.8">2009</text>
<text x="374.2" y="817.8">2010</text>
<text x="486.2" y="817.8">2011</text>
<text x="598.1" y="817.8">2012</text>
<text x="712" y="817.8">2013</text>
<text x="824.1" y="817.8">2014</text>
<text x="936.1" y="817.8">2015</text>
<text x="1048.1" y="817.8">2016</text>
<text x="1160" y="817.8">2017</text>
<text x="1272" y="817.8">2018</text>
<text x="1386.2" y="817.8">2019</text>
<text x="1498.1" y="817.8">2020</text>
</g>
<rect x="1460" y="582" width="51.5" height="16.5" fill="#26a69a"/>
<rect x="1513" y="582" width="55.5" height="16.5" fill="#26a69a"/>
<path d="M1514 590.5h4" stroke="#fff" stroke-width="1"/>
<g font-family="'Liberation Sans',Arial,sans-serif" font-size="11px" font-weight="bold" fill="#fff">
<text x="1468" y="593.8" textLength="39.5" lengthAdjust="spacingAndGlyphs">AUDUSD</text>
<text x="1522" y="593.8" textLength="39" lengthAdjust="spacingAndGlyphs">0.72440</text>
</g>
<rect x="1513" y="614.5" width="55.5" height="16" fill="#b4b4b4"/>
<path d="M1514 622.5h4" stroke="#333" stroke-width="1"/>
<text x="1522" y="626" font-family="'Liberation Sans',Arial,sans-serif" font-size="11.3px" fill="#111" textLength="38.5" lengthAdjust="spacingAndGlyphs">0.70076</text>
<rect x="580.5" y="601.5" width="173" height="17" fill="#fff" stroke="#1818b8" stroke-width="1"/>
<text x="583.5" y="613.9" font-family="'Liberation Sans',Arial,sans-serif" font-size="12px" font-weight="bold" fill="#1a1ac0" textLength="166.5" lengthAdjust="spacing">0.70 - Key Level For AUDUSD</text>
<text x="17.5" y="46.4" font-family="'Liberation Sans',Arial,sans-serif" font-size="12.5px" fill="#4d5055" textLength="86" lengthAdjust="spacingAndGlyphs">MA (200, close)</text>
<g font-family="'Liberation Sans',Arial,sans-serif" font-size="12.6px">
<text x="8.9" y="15" font-weight="bold" fill="#000" textLength="93.6" lengthAdjust="spacingAndGlyphs">FX:AUDUSD, 1W</text>
<text x="109" y="15" fill="#111" textLength="45.2" lengthAdjust="spacingAndGlyphs">0.72439</text>
<path d="M158.6 6.2h9.8l-4.9 10.2z" fill="#8e0b0b"/>
<text x="172.5" y="15" fill="#111" textLength="105.2" lengthAdjust="spacingAndGlyphs">−0.00261 (−0.36%)</text>
<text x="282.5" y="15" font-weight="bold" fill="#000" textLength="12.1" lengthAdjust="spacingAndGlyphs">O:</text>
<text x="296.4" y="15" fill="#a62b2b" textLength="44.9" lengthAdjust="spacingAndGlyphs">0.71751</text>
<text x="346.6" y="15" font-weight="bold" fill="#000" textLength="11.6" lengthAdjust="spacingAndGlyphs">H:</text>
<text x="360.6" y="15" fill="#a62b2b" textLength="44.5" lengthAdjust="spacingAndGlyphs">0.72952</text>
<text x="410.8" y="15" font-weight="bold" fill="#000" textLength="8.6" lengthAdjust="spacingAndGlyphs">L:</text>
<text x="421.2" y="15" fill="#a62b2b" textLength="45.4" lengthAdjust="spacingAndGlyphs">0.71380</text>
<text x="471.4" y="15" font-weight="bold" fill="#000" textLength="10.2" lengthAdjust="spacingAndGlyphs">C:</text>
<text x="483.4" y="15" fill="#a62b2b" textLength="45.1" lengthAdjust="spacingAndGlyphs">0.72440</text>
</g>
</svg>
</body>
</html>
